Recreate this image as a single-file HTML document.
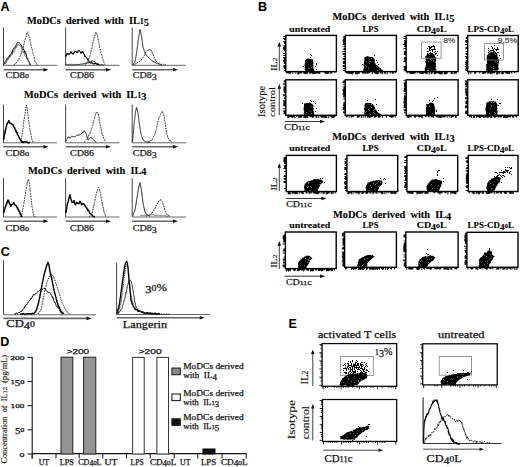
<!DOCTYPE html>
<html><head><meta charset="utf-8"><style>
html,body{margin:0;padding:0;background:#fff;}
body{width:520px;height:467px;overflow:hidden;}
svg{display:block;}
</style></head><body>
<svg width="520" height="467" viewBox="0 0 520 467" shape-rendering="auto">
<rect width="520" height="467" fill="#fff"/>
<text x="0.5" y="11.2" font-family="'Liberation Sans', sans-serif" font-size="12.5" font-weight="bold" fill="#000" text-anchor="start" stroke="#000" stroke-width="0.1" >A</text>
<text x="27" y="24" font-family="'Liberation Serif', serif" font-size="9.6" font-weight="bold" fill="#000" text-anchor="start" textLength="122" lengthAdjust="spacingAndGlyphs" stroke="#000" stroke-width="0.1" >MoDCs&#160;&#160;derived&#160;&#160;with&#160;&#160;IL<tspan font-size="7.49">1</tspan><tspan dy="1.92" font-size="9.60">5</tspan></text>
<text x="24" y="98" font-family="'Liberation Serif', serif" font-size="9.6" font-weight="bold" fill="#000" text-anchor="start" textLength="122.5" lengthAdjust="spacingAndGlyphs" stroke="#000" stroke-width="0.1" >MoDCs&#160;&#160;derived&#160;&#160;with&#160;&#160;IL<tspan font-size="7.49">1</tspan><tspan dy="1.92" font-size="9.60">3</tspan></text>
<text x="28" y="173.5" font-family="'Liberation Serif', serif" font-size="9.6" font-weight="bold" fill="#000" text-anchor="start" textLength="118.5" lengthAdjust="spacingAndGlyphs" stroke="#000" stroke-width="0.1" >MoDCs&#160;&#160;derived&#160;&#160;with&#160;&#160;IL<tspan dy="1.92" font-size="9.60">4</tspan></text>
<line x1="3.5" y1="27.5" x2="3.5" y2="65.3" stroke="#333" stroke-width="0.9"/>
<line x1="3.5" y1="65.3" x2="57" y2="65.3" stroke="#555" stroke-width="0.9"/>
<line x1="3.5" y1="69.8" x2="45.5" y2="69.8" stroke="#666" stroke-width="1.6"/>
<polygon points="43.5,68.0 48.5,69.8 43.5,71.6" fill="#111"/>
<text x="5.5" y="78.3" font-family="'Liberation Serif', serif" font-size="9" font-weight="normal" fill="#1a1a1a" text-anchor="start" textLength="23.5" lengthAdjust="spacingAndGlyphs" stroke="#1a1a1a" stroke-width="0.25" >CD<tspan font-size="9.00">8</tspan><tspan font-size="7.02">0</tspan></text>
<line x1="65.6" y1="27.5" x2="65.6" y2="65.3" stroke="#333" stroke-width="0.9"/>
<line x1="65.6" y1="65.3" x2="119.5" y2="65.3" stroke="#555" stroke-width="0.9"/>
<line x1="65.6" y1="69.8" x2="108" y2="69.8" stroke="#666" stroke-width="1.6"/>
<polygon points="106,68.0 111,69.8 106,71.6" fill="#111"/>
<text x="70" y="78.3" font-family="'Liberation Serif', serif" font-size="9" font-weight="normal" fill="#1a1a1a" text-anchor="start" textLength="24" lengthAdjust="spacingAndGlyphs" stroke="#1a1a1a" stroke-width="0.25" >CD<tspan font-size="9.00">8</tspan><tspan font-size="9.00">6</tspan></text>
<line x1="132.2" y1="27.5" x2="132.2" y2="65.3" stroke="#333" stroke-width="0.9"/>
<line x1="132.2" y1="65.3" x2="186" y2="65.3" stroke="#555" stroke-width="0.9"/>
<line x1="132.2" y1="69.8" x2="175" y2="69.8" stroke="#666" stroke-width="1.6"/>
<polygon points="173,68.0 178,69.8 173,71.6" fill="#111"/>
<text x="132.8" y="78.3" font-family="'Liberation Serif', serif" font-size="9" font-weight="normal" fill="#1a1a1a" text-anchor="start" textLength="24" lengthAdjust="spacingAndGlyphs" stroke="#1a1a1a" stroke-width="0.25" >CD<tspan font-size="9.00">8</tspan><tspan dy="1.80" font-size="9.00">3</tspan></text>
<line x1="3.5" y1="104.5" x2="3.5" y2="142.8" stroke="#333" stroke-width="0.9"/>
<line x1="3.5" y1="142.8" x2="57" y2="142.8" stroke="#555" stroke-width="0.9"/>
<line x1="3.5" y1="146.8" x2="45.5" y2="146.8" stroke="#666" stroke-width="1.6"/>
<polygon points="43.5,145.0 48.5,146.8 43.5,148.60000000000002" fill="#111"/>
<text x="5.5" y="156.3" font-family="'Liberation Serif', serif" font-size="9" font-weight="normal" fill="#1a1a1a" text-anchor="start" textLength="23.5" lengthAdjust="spacingAndGlyphs" stroke="#1a1a1a" stroke-width="0.25" >CD<tspan font-size="9.00">8</tspan><tspan font-size="7.02">0</tspan></text>
<line x1="65.6" y1="104.5" x2="65.6" y2="142.8" stroke="#333" stroke-width="0.9"/>
<line x1="65.6" y1="142.8" x2="119.5" y2="142.8" stroke="#555" stroke-width="0.9"/>
<line x1="65.6" y1="146.8" x2="108" y2="146.8" stroke="#666" stroke-width="1.6"/>
<polygon points="106,145.0 111,146.8 106,148.60000000000002" fill="#111"/>
<text x="70" y="156.3" font-family="'Liberation Serif', serif" font-size="9" font-weight="normal" fill="#1a1a1a" text-anchor="start" textLength="24" lengthAdjust="spacingAndGlyphs" stroke="#1a1a1a" stroke-width="0.25" >CD<tspan font-size="9.00">8</tspan><tspan font-size="9.00">6</tspan></text>
<line x1="132.2" y1="104.5" x2="132.2" y2="142.8" stroke="#333" stroke-width="0.9"/>
<line x1="132.2" y1="142.8" x2="186" y2="142.8" stroke="#555" stroke-width="0.9"/>
<line x1="132.2" y1="146.8" x2="175" y2="146.8" stroke="#666" stroke-width="1.6"/>
<polygon points="173,145.0 178,146.8 173,148.60000000000002" fill="#111"/>
<text x="132.8" y="156.3" font-family="'Liberation Serif', serif" font-size="9" font-weight="normal" fill="#1a1a1a" text-anchor="start" textLength="24" lengthAdjust="spacingAndGlyphs" stroke="#1a1a1a" stroke-width="0.25" >CD<tspan font-size="9.00">8</tspan><tspan dy="1.80" font-size="9.00">3</tspan></text>
<line x1="3.5" y1="178" x2="3.5" y2="217" stroke="#333" stroke-width="0.9"/>
<line x1="3.5" y1="217" x2="57" y2="217" stroke="#555" stroke-width="0.9"/>
<line x1="3.5" y1="221.3" x2="45.5" y2="221.3" stroke="#666" stroke-width="1.6"/>
<polygon points="43.5,219.5 48.5,221.3 43.5,223.10000000000002" fill="#111"/>
<text x="5.5" y="230.8" font-family="'Liberation Serif', serif" font-size="9" font-weight="normal" fill="#1a1a1a" text-anchor="start" textLength="23.5" lengthAdjust="spacingAndGlyphs" stroke="#1a1a1a" stroke-width="0.25" >CD<tspan font-size="9.00">8</tspan><tspan font-size="7.02">0</tspan></text>
<line x1="65.6" y1="178" x2="65.6" y2="217" stroke="#333" stroke-width="0.9"/>
<line x1="65.6" y1="217" x2="119.5" y2="217" stroke="#555" stroke-width="0.9"/>
<line x1="65.6" y1="221.3" x2="108" y2="221.3" stroke="#666" stroke-width="1.6"/>
<polygon points="106,219.5 111,221.3 106,223.10000000000002" fill="#111"/>
<text x="70" y="230.8" font-family="'Liberation Serif', serif" font-size="9" font-weight="normal" fill="#1a1a1a" text-anchor="start" textLength="24" lengthAdjust="spacingAndGlyphs" stroke="#1a1a1a" stroke-width="0.25" >CD<tspan font-size="9.00">8</tspan><tspan font-size="9.00">6</tspan></text>
<line x1="132.2" y1="178" x2="132.2" y2="217" stroke="#333" stroke-width="0.9"/>
<line x1="132.2" y1="217" x2="186" y2="217" stroke="#555" stroke-width="0.9"/>
<line x1="132.2" y1="221.3" x2="175" y2="221.3" stroke="#666" stroke-width="1.6"/>
<polygon points="173,219.5 178,221.3 173,223.10000000000002" fill="#111"/>
<text x="132.8" y="230.8" font-family="'Liberation Serif', serif" font-size="9" font-weight="normal" fill="#1a1a1a" text-anchor="start" textLength="24" lengthAdjust="spacingAndGlyphs" stroke="#1a1a1a" stroke-width="0.25" >CD<tspan font-size="9.00">8</tspan><tspan dy="1.80" font-size="9.00">3</tspan></text>
<polyline points="3.50,65.00 3.92,63.95 4.33,62.90 4.75,63.33 5.17,61.39 5.58,61.75 6.00,60.70 6.43,59.46 6.86,59.87 7.29,58.27 7.71,58.57 8.14,57.20 8.57,56.67 9.00,56.83 9.38,57.09 9.75,54.92 10.12,54.52 10.50,54.78 10.88,54.86 11.25,53.42 11.62,52.40 12.00,53.05 12.38,50.38 12.75,51.54 13.12,49.66 13.50,48.72 13.88,48.03 14.25,47.83 14.62,48.32 15.00,46.30 15.40,46.58 15.80,46.11 16.20,44.92 16.60,44.71 17.00,43.04 17.67,42.53 18.33,42.35 19.00,42.90 19.50,42.97 20.00,43.34 20.50,44.56 21.00,44.90 21.40,45.16 21.80,46.85 22.20,47.24 22.60,46.84 23.00,48.16 23.33,48.72 23.67,50.16 24.00,50.50 24.33,50.20 24.67,52.39 25.00,51.16 25.29,52.53 25.57,53.99 25.86,53.38 26.14,54.83 26.43,54.56 26.71,56.66 27.00,57.58 27.29,57.87 27.57,59.25 27.86,58.73 28.14,60.29 28.43,60.78 28.71,61.46 29.00,61.90 29.38,63.50 29.75,64.48 30.12,64.19 30.50,65.00" fill="none" stroke="#000" stroke-width="0.9" stroke-linejoin="round" opacity="1"/>
<polyline points="3.50,65.00 4.00,64.79 4.50,62.75 5.00,63.68 5.50,62.95 6.00,63.18 6.50,62.19 7.00,60.32 7.50,59.98 8.00,60.07 8.50,57.94 9.00,58.41 9.43,57.06 9.86,56.30 10.29,55.51 10.71,56.57 11.14,54.40 11.57,54.04 12.00,53.74 12.38,54.27 12.75,51.74 13.12,52.00 13.50,51.62 13.88,51.80 14.25,51.02 14.62,50.50 15.00,48.47 15.40,48.20 15.80,47.46 16.20,48.12 16.60,47.70 17.00,45.16 17.67,44.89 18.33,44.69 19.00,44.36 19.50,45.46 20.00,46.21 20.50,45.93 21.00,45.81 21.33,47.47 21.67,48.02 22.00,49.16 22.33,50.75 22.67,50.79 23.00,51.04 23.33,51.95 23.67,52.76 24.00,51.93 24.33,54.63 24.67,55.01 25.00,55.90 25.33,56.38 25.67,56.08 26.00,56.76 26.33,56.72 26.67,58.66 27.00,57.95 27.33,58.63 27.67,59.63 28.00,60.19 28.33,61.28 28.67,61.26 29.00,61.80 29.50,62.83 30.00,63.38 30.50,65.00" fill="none" stroke="#444" stroke-width="0.8" stroke-linejoin="round" opacity="1"/>
<polyline points="14.00,65.00 14.50,64.36 15.00,63.53 15.50,63.87 16.00,63.11 16.50,62.15 17.00,61.75 17.38,61.22 17.75,60.61 18.12,59.75 18.50,59.85 18.88,59.37 19.25,58.22 19.62,57.61 20.00,56.59 20.23,55.91 20.46,55.46 20.69,54.69 20.92,54.56 21.15,53.20 21.38,52.37 21.62,52.60 21.85,51.49 22.08,50.42 22.31,50.12 22.54,48.91 22.77,48.72 23.00,48.48 23.18,47.64 23.36,46.74 23.55,45.58 23.73,44.96 23.91,44.03 24.09,43.91 24.27,42.94 24.45,42.46 24.64,41.28 24.82,40.45 25.00,40.31 25.23,39.76 25.45,38.90 25.68,38.12 25.91,37.41 26.14,36.60 26.36,35.36 26.59,34.93 26.82,34.04 27.05,32.98 27.27,32.26 27.50,31.78 27.72,32.43 27.94,33.53 28.17,34.46 28.39,34.61 28.61,35.77 28.83,36.49 29.06,37.12 29.28,37.20 29.50,37.72 29.65,38.42 29.81,39.08 29.96,39.78 30.12,40.89 30.27,41.86 30.42,42.49 30.58,42.83 30.73,43.69 30.88,44.53 31.04,44.51 31.19,45.78 31.35,46.72 31.50,47.28 31.68,47.98 31.86,48.43 32.05,48.86 32.23,50.20 32.41,50.47 32.59,51.66 32.77,52.56 32.95,52.71 33.14,53.45 33.32,54.72 33.50,55.22 33.69,55.42 33.88,56.13 34.06,56.90 34.25,58.40 34.44,59.06 34.62,59.15 34.81,60.58 35.00,61.48 35.33,61.82 35.67,62.18 36.00,63.05 36.33,63.30 36.67,63.85 37.00,65.00" fill="none" stroke="#2a2a2a" stroke-width="1.0" stroke-dasharray="1.8,0.9" stroke-linejoin="round" opacity="1"/>
<polyline points="65.60,57.00 65.83,56.99 66.07,55.88 66.30,55.04 66.53,54.94 66.77,53.57 67.00,53.52 67.50,53.96 68.00,53.60 68.50,54.15 69.00,54.71 69.40,54.04 69.80,53.92 70.20,52.86 70.60,52.49 71.00,51.48 71.50,53.07 72.00,52.80 72.50,53.44 73.00,54.12 73.40,53.97 73.80,52.69 74.20,52.78 74.60,51.60 75.00,51.04 75.50,51.53 76.00,51.33 76.50,52.42 77.00,52.56 77.40,51.71 77.80,52.22 78.20,50.74 78.60,50.56 79.00,50.32 79.40,50.68 79.80,50.96 80.20,51.83 80.60,52.48 81.00,53.40 81.67,52.12 82.33,52.42 83.00,51.65 83.33,52.35 83.67,53.71 84.00,54.01 84.33,54.75 84.67,55.70 85.00,56.58 85.50,56.42 86.00,57.16 86.50,57.51 87.00,58.02 87.40,58.97 87.80,59.33 88.20,60.15 88.60,60.77 89.00,62.12 89.67,62.11 90.33,62.69 91.00,63.12 91.75,62.41 92.50,63.08 93.25,63.87 94.00,63.98 94.75,63.24 95.50,63.47 96.25,64.17 97.00,63.90 98.00,64.39 99.00,65.00" fill="none" stroke="#000" stroke-width="1.1" stroke-linejoin="round" opacity="1"/>
<polyline points="65.60,64.50 66.32,64.16 67.04,64.64 67.76,64.73 68.48,64.82 69.20,64.22 69.92,64.67 70.64,64.63 71.36,64.21 72.08,64.81 72.80,64.87 73.52,64.28 74.24,64.86 74.96,64.42 75.68,64.49 76.40,64.89 77.12,64.77 77.84,64.23 78.56,64.45 79.28,64.51 80.00,64.37 80.73,64.12 81.45,64.08 82.18,64.27 82.91,63.57 83.64,63.86 84.36,63.63 85.09,63.16 85.82,63.27 86.55,63.37 87.27,63.15 88.00,62.65 88.75,63.01 89.50,62.48 90.25,62.25 91.00,61.18 92.00,61.06 93.00,60.63 93.67,61.56 94.33,61.48 95.00,61.70 95.67,62.44 96.33,63.33 97.00,63.76 97.75,63.63 98.50,63.87 99.25,64.81 100.00,64.86 100.80,65.00 101.60,64.55 102.40,64.57 103.20,65.11 104.00,65.00" fill="none" stroke="#111" stroke-width="0.9" stroke-linejoin="round" opacity="1"/>
<polyline points="85.00,65.00 85.43,64.35 85.86,63.43 86.29,63.72 86.71,62.85 87.14,62.44 87.57,61.16 88.00,61.36 88.29,59.85 88.57,59.93 88.86,58.81 89.14,57.98 89.43,57.48 89.71,57.14 90.00,55.77 90.18,54.90 90.36,54.57 90.55,53.56 90.73,52.70 90.91,52.03 91.09,51.19 91.27,50.61 91.45,49.99 91.64,49.26 91.82,48.99 92.00,47.79 92.14,47.29 92.29,46.25 92.43,45.70 92.57,44.66 92.71,44.18 92.86,43.23 93.00,43.23 93.14,42.34 93.29,41.26 93.43,40.83 93.57,40.58 93.71,39.03 93.86,39.03 94.00,37.93 94.22,37.33 94.44,37.00 94.67,35.89 94.89,35.34 95.11,34.85 95.33,34.48 95.56,33.18 95.78,33.00 96.00,32.21 96.25,32.80 96.50,33.24 96.75,33.85 97.00,34.22 97.25,34.96 97.50,35.57 97.64,36.97 97.77,37.21 97.91,37.85 98.05,38.49 98.18,39.98 98.32,40.73 98.45,41.26 98.59,41.60 98.73,42.29 98.86,43.07 99.00,43.96 99.15,44.35 99.31,45.33 99.46,45.84 99.62,47.23 99.77,47.93 99.92,48.20 100.08,48.59 100.23,50.00 100.38,50.04 100.54,50.78 100.69,51.12 100.85,52.19 101.00,52.97 101.20,53.70 101.40,54.10 101.60,55.10 101.80,55.30 102.00,56.26 102.20,56.79 102.40,57.80 102.60,58.14 102.80,58.82 103.00,59.80 103.29,60.45 103.57,61.51 103.86,62.17 104.14,63.11 104.43,63.73 104.71,64.50 105.00,65.00" fill="none" stroke="#2a2a2a" stroke-width="1.0" stroke-dasharray="1.8,0.9" stroke-linejoin="round" opacity="1"/>
<polyline points="132.50,65.00 133.00,64.40 133.50,63.80 134.00,63.20 134.50,62.60 135.00,62.00 135.12,61.29 135.24,60.59 135.35,59.88 135.47,59.18 135.59,58.47 135.71,57.76 135.82,57.06 135.94,56.35 136.06,55.65 136.18,54.94 136.29,54.24 136.41,53.53 136.53,52.82 136.65,52.12 136.76,51.41 136.88,50.71 137.00,50.00 137.09,49.29 137.18,48.59 137.26,47.88 137.35,47.18 137.44,46.47 137.53,45.76 137.62,45.06 137.71,44.35 137.79,43.65 137.88,42.94 137.97,42.24 138.06,41.53 138.15,40.82 138.24,40.12 138.32,39.41 138.41,38.71 138.50,38.00 138.62,37.29 138.75,36.58 138.88,35.88 139.00,35.17 139.12,34.46 139.25,33.75 139.38,33.04 139.50,32.33 139.62,31.62 139.75,30.92 139.88,30.21 140.00,29.50 140.17,30.22 140.33,30.94 140.50,31.67 140.67,32.39 140.83,33.11 141.00,33.83 141.17,34.56 141.33,35.28 141.50,36.00 141.60,36.73 141.70,37.47 141.80,38.20 141.90,38.93 142.00,39.67 142.10,40.40 142.20,41.13 142.30,41.87 142.40,42.60 142.50,43.33 142.60,44.07 142.70,44.80 142.80,45.53 142.90,46.27 143.00,47.00 143.22,47.67 143.44,48.33 143.67,49.00 143.89,49.67 144.11,50.33 144.33,51.00 144.56,51.67 144.78,52.33 145.00,53.00 145.40,53.60 145.80,54.20 146.20,54.80 146.60,55.40 147.00,56.00 147.50,56.50 148.00,57.00 148.50,57.50 149.00,58.00 149.50,58.50 150.00,59.00 150.60,59.50 151.20,60.00 151.80,60.50 152.40,61.00 153.00,61.50 153.67,61.83 154.33,62.17 155.00,62.50 155.67,62.83 156.33,63.17 157.00,63.50 157.71,63.71 158.43,63.93 159.14,64.14 159.86,64.36 160.57,64.57 161.29,64.79 162.00,65.00" fill="none" stroke="#111" stroke-width="0.9" stroke-linejoin="round" opacity="1"/>
<polyline points="133.00,65.00 133.67,65.05 134.33,64.22 135.00,63.83 135.67,64.15 136.33,62.98 137.00,63.22 137.57,62.71 138.14,61.69 138.71,62.05 139.29,61.68 139.86,60.98 140.43,60.66 141.00,60.31 141.43,59.07 141.86,58.88 142.29,58.29 142.71,58.05 143.14,57.45 143.57,56.90 144.00,56.08 144.33,55.73 144.67,54.85 145.00,54.19 145.33,53.06 145.67,52.20 146.00,51.63 146.50,51.36 147.00,50.60 147.50,50.84 148.00,50.06 148.67,49.79 149.33,49.46 150.00,49.18 150.40,49.59 150.80,49.70 151.20,51.10 151.60,51.65 152.00,52.00 152.29,52.75 152.57,53.59 152.86,53.71 153.14,55.09 153.43,55.32 153.71,55.86 154.00,56.77 154.33,57.90 154.67,58.04 155.00,59.24 155.33,60.14 155.67,60.33 156.00,60.88 156.50,61.48 157.00,62.18 157.50,62.77 158.00,63.12 158.67,63.39 159.33,63.08 160.00,63.40 160.67,63.75 161.33,64.49 162.00,64.30 162.80,64.67 163.60,64.21 164.40,64.36 165.20,64.67 166.00,65.00" fill="none" stroke="#2a2a2a" stroke-width="1.0" stroke-dasharray="1.8,0.9" stroke-linejoin="round" opacity="1"/>
<polyline points="3.50,140.00 3.64,139.44 3.77,138.74 3.91,137.99 4.05,136.88 4.18,136.38 4.32,135.60 4.45,134.88 4.59,133.80 4.73,133.85 4.86,132.43 5.00,132.48 5.18,131.71 5.36,130.06 5.55,129.78 5.73,129.41 5.91,128.83 6.09,127.59 6.27,126.68 6.45,125.89 6.64,125.90 6.82,124.44 7.00,124.08 7.45,122.89 7.90,122.52 8.35,122.20 8.80,120.63 9.20,121.99 9.60,122.34 10.00,123.39 10.67,123.54 11.33,123.40 12.00,124.40 12.40,124.59 12.80,124.72 13.20,125.30 13.60,126.39 14.00,126.95 14.33,127.47 14.67,127.97 15.00,128.84 15.33,129.48 15.67,130.67 16.00,130.50 16.33,131.92 16.67,132.67 17.00,132.62 17.33,134.09 17.67,134.55 18.00,135.40 18.33,135.46 18.67,136.21 19.00,136.89 19.33,138.17 19.67,138.42 20.00,138.86 20.40,139.53 20.80,139.98 21.20,140.35 21.60,141.00 22.00,142.33 22.73,141.81 23.45,142.49 24.18,141.83 24.91,141.87 25.64,142.15 26.36,141.85 27.09,142.06 27.82,142.67 28.55,142.63 29.27,142.58 30.00,142.30" fill="none" stroke="#000" stroke-width="1.5" stroke-linejoin="round" opacity="1"/>
<polyline points="20.00,142.00 20.22,141.46 20.44,141.08 20.67,140.44 20.89,139.38 21.11,138.89 21.33,137.55 21.56,137.57 21.78,136.62 22.00,136.25 22.09,135.45 22.17,134.39 22.26,133.46 22.35,133.64 22.43,132.15 22.52,131.80 22.61,130.97 22.70,130.23 22.78,129.98 22.87,129.52 22.96,128.11 23.04,127.81 23.13,126.76 23.22,126.32 23.30,125.46 23.39,124.54 23.48,123.84 23.57,123.19 23.65,123.19 23.74,122.08 23.83,121.11 23.91,121.10 24.00,120.50 24.12,119.24 24.24,118.21 24.36,117.55 24.48,116.73 24.60,116.27 24.71,115.31 24.83,114.74 24.95,114.04 25.07,113.64 25.19,113.24 25.31,112.39 25.43,111.34 25.55,110.63 25.67,110.02 25.79,109.16 25.90,108.41 26.02,107.42 26.14,106.92 26.26,106.90 26.38,105.34 26.50,105.00 26.61,105.84 26.71,106.79 26.82,106.86 26.93,107.63 27.04,108.32 27.14,109.19 27.25,109.95 27.36,111.17 27.46,111.78 27.57,112.52 27.68,112.38 27.79,113.10 27.89,114.50 28.00,115.40 28.10,115.69 28.19,116.52 28.29,116.64 28.38,117.75 28.48,119.00 28.57,119.61 28.67,120.36 28.76,121.19 28.86,121.18 28.95,121.75 29.05,122.51 29.14,123.59 29.24,124.47 29.33,125.44 29.43,125.94 29.52,126.58 29.62,127.41 29.71,127.81 29.81,128.62 29.90,128.83 30.00,130.28 30.14,130.45 30.29,131.85 30.43,132.29 30.57,132.66 30.71,133.20 30.86,134.04 31.00,135.14 31.14,135.91 31.29,136.04 31.43,136.71 31.57,137.88 31.71,138.65 31.86,139.17 32.00,139.72 32.33,140.77 32.67,140.84 33.00,142.00" fill="none" stroke="#2a2a2a" stroke-width="1.0" stroke-dasharray="1.8,0.9" stroke-linejoin="round" opacity="1"/>
<polyline points="66.00,141.00 66.33,140.17 66.67,139.64 67.00,139.37 67.33,138.45 67.67,137.97 68.00,136.98 68.67,137.12 69.33,137.46 70.00,138.37 70.50,137.66 71.00,136.85 71.50,136.12 72.00,136.00 72.67,136.47 73.33,136.60 74.00,136.81 74.67,136.80 75.33,136.67 76.00,135.78 76.67,135.29 77.33,135.20 78.00,134.94 79.00,135.15 80.00,134.76 80.50,134.74 81.00,134.19 81.50,133.50 82.00,132.76 82.50,132.88 83.00,131.85 83.50,131.76 84.00,130.78 84.50,131.28 85.00,132.21 85.50,132.34 86.00,133.36 86.20,133.80 86.40,134.35 86.60,135.18 86.80,136.13 87.00,137.13 87.25,138.11 87.50,138.22 87.75,139.16 88.00,139.77 88.50,139.88 89.00,138.71 89.50,138.14 90.00,137.65 90.50,137.41 91.00,137.32 91.50,137.81 92.00,138.19 92.50,138.90 93.00,139.35 93.50,139.36 94.00,139.75 94.50,140.85 95.00,141.20 95.50,141.28 96.00,142.30" fill="none" stroke="#111" stroke-width="0.9" stroke-linejoin="round" opacity="1"/>
<polyline points="84.00,142.00 84.50,141.66 85.00,140.88 85.50,140.37 86.00,139.83 86.50,139.17 87.00,138.50 87.33,138.11 87.67,137.52 88.00,137.46 88.33,135.96 88.67,136.13 89.00,134.71 89.33,134.19 89.67,133.99 90.00,133.32 90.29,132.22 90.57,131.12 90.86,130.83 91.14,130.02 91.43,129.85 91.71,128.41 92.00,127.86 92.18,127.67 92.36,126.08 92.55,125.73 92.73,125.40 92.91,124.63 93.09,123.18 93.27,122.44 93.45,121.74 93.64,121.87 93.82,120.48 94.00,120.25 94.20,119.70 94.40,118.44 94.60,117.67 94.80,117.66 95.00,116.62 95.20,115.56 95.40,115.32 95.60,114.22 95.80,113.48 96.00,112.50 96.50,112.51 97.00,111.92 97.30,112.33 97.60,113.34 97.90,113.12 98.20,114.03 98.50,114.98 98.62,116.15 98.73,116.84 98.85,116.96 98.96,117.52 99.08,118.39 99.19,119.15 99.31,120.27 99.42,120.22 99.54,121.53 99.65,122.16 99.77,122.94 99.88,123.58 100.00,124.11 100.15,124.52 100.31,125.20 100.46,125.94 100.62,127.05 100.77,127.04 100.92,127.85 101.08,129.10 101.23,129.29 101.38,129.80 101.54,130.46 101.69,131.67 101.85,132.13 102.00,133.48 102.22,134.05 102.44,134.82 102.67,134.76 102.89,135.25 103.11,135.93 103.33,137.00 103.56,137.88 103.78,138.28 104.00,138.73 104.40,139.52 104.80,140.32 105.20,140.97 105.60,141.65 106.00,142.00" fill="none" stroke="#2a2a2a" stroke-width="1.0" stroke-dasharray="1.8,0.9" stroke-linejoin="round" opacity="1"/>
<polyline points="132.50,142.00 132.56,141.29 132.62,140.58 132.69,139.88 132.75,139.17 132.81,138.46 132.88,137.75 132.94,137.04 133.00,136.33 133.06,135.62 133.12,134.92 133.19,134.21 133.25,133.50 133.31,132.79 133.38,132.08 133.44,131.38 133.50,130.67 133.56,129.96 133.62,129.25 133.69,128.54 133.75,127.83 133.81,127.12 133.88,126.42 133.94,125.71 134.00,125.00 134.08,124.28 134.17,123.56 134.25,122.83 134.33,122.11 134.42,121.39 134.50,120.67 134.58,119.94 134.67,119.22 134.75,118.50 134.83,117.78 134.92,117.06 135.00,116.33 135.08,115.61 135.17,114.89 135.25,114.17 135.33,113.44 135.42,112.72 135.50,112.00 135.68,111.25 135.87,110.50 136.05,109.75 136.23,109.00 136.42,108.25 136.60,107.50 136.78,108.19 136.95,108.88 137.12,109.56 137.30,110.25 137.47,110.94 137.65,111.62 137.82,112.31 138.00,113.00 138.09,113.71 138.18,114.41 138.26,115.12 138.35,115.82 138.44,116.53 138.53,117.24 138.62,117.94 138.71,118.65 138.79,119.35 138.88,120.06 138.97,120.76 139.06,121.47 139.15,122.18 139.24,122.88 139.32,123.59 139.41,124.29 139.50,125.00 139.62,125.69 139.73,126.38 139.85,127.08 139.96,127.77 140.08,128.46 140.19,129.15 140.31,129.85 140.42,130.54 140.54,131.23 140.65,131.92 140.77,132.62 140.88,133.31 141.00,134.00 141.22,134.67 141.44,135.33 141.67,136.00 141.89,136.67 142.11,137.33 142.33,138.00 142.56,138.67 142.78,139.33 143.00,140.00 143.60,140.40 144.20,140.80 144.80,141.20 145.40,141.60 146.00,142.00 146.80,142.06 147.60,142.12 148.40,142.18 149.20,142.24 150.00,142.30" fill="none" stroke="#111" stroke-width="0.9" stroke-linejoin="round" opacity="1"/>
<polyline points="148.00,142.00 148.67,142.01 149.33,141.50 150.00,140.62 150.67,141.01 151.33,140.13 152.00,140.07 152.33,139.21 152.67,138.90 153.00,137.70 153.33,137.08 153.67,136.41 154.00,135.65 154.33,135.72 154.67,134.74 155.00,133.83 155.18,133.17 155.36,133.04 155.55,131.83 155.73,130.82 155.91,130.67 156.09,129.79 156.27,129.40 156.45,127.78 156.64,127.43 156.82,127.05 157.00,126.34 157.18,125.69 157.36,124.09 157.55,123.61 157.73,122.71 157.91,122.05 158.09,122.11 158.27,120.99 158.45,120.61 158.64,119.33 158.82,119.09 159.00,117.95 159.29,117.05 159.57,116.85 159.86,116.30 160.14,114.75 160.43,114.52 160.71,113.83 161.00,112.72 161.50,112.37 162.00,111.64 162.50,111.20 162.75,112.00 163.00,113.10 163.25,113.90 163.50,114.20 163.75,114.76 164.00,115.83 164.11,116.89 164.21,117.11 164.32,117.96 164.43,118.56 164.54,119.87 164.64,120.33 164.75,120.56 164.86,121.32 164.96,122.32 165.07,123.19 165.18,124.00 165.29,124.16 165.39,124.95 165.50,126.20 165.62,126.60 165.73,127.17 165.85,127.88 165.96,129.22 166.08,129.27 166.19,130.22 166.31,130.70 166.42,131.45 166.54,132.60 166.65,133.42 166.77,133.48 166.88,134.00 167.00,135.23 167.29,135.42 167.57,135.93 167.86,137.54 168.14,137.78 168.43,138.89 168.71,139.19 169.00,140.38 169.60,140.36 170.20,140.46 170.80,140.71 171.40,141.65 172.00,142.00" fill="none" stroke="#2a2a2a" stroke-width="1.0" stroke-dasharray="1.8,0.9" stroke-linejoin="round" opacity="1"/>
<polyline points="3.50,213.00 3.71,212.43 3.93,211.98 4.14,210.45 4.36,210.27 4.57,209.30 4.79,208.72 5.00,207.65 5.25,207.12 5.50,206.69 5.75,206.43 6.00,204.94 6.25,204.66 6.50,204.30 6.75,203.80 7.00,202.36 7.25,201.63 7.50,201.78 7.75,201.14 8.00,199.98 8.38,200.30 8.75,201.93 9.12,202.14 9.50,203.40 9.88,203.87 10.25,204.82 10.62,204.91 11.00,206.29 11.50,205.06 12.00,204.57 12.50,204.35 13.00,203.83 13.50,202.68 14.00,203.38 14.50,204.23 15.00,205.02 15.50,205.38 16.00,205.62 16.50,206.25 17.00,207.22 17.33,208.06 17.67,207.87 18.00,209.06 18.33,209.92 18.67,209.87 19.00,211.34 19.38,211.37 19.75,212.60 20.12,213.30 20.50,214.13 20.88,214.56 21.25,215.42 21.62,216.33 22.00,217.00" fill="none" stroke="#000" stroke-width="1.5" stroke-linejoin="round" opacity="1"/>
<polyline points="20.00,217.00 20.40,216.33 20.80,215.96 21.20,215.15 21.60,214.54 22.00,213.52 22.13,213.39 22.27,212.52 22.40,211.54 22.53,211.33 22.67,210.61 22.80,209.56 22.93,208.55 23.07,208.11 23.20,207.01 23.33,206.30 23.47,205.86 23.60,204.79 23.73,204.41 23.87,203.74 24.00,202.54 24.11,202.41 24.22,201.14 24.33,201.07 24.44,200.39 24.56,199.40 24.67,198.22 24.78,197.95 24.89,197.10 25.00,196.95 25.11,195.41 25.22,195.41 25.33,194.83 25.44,193.84 25.56,193.20 25.67,191.86 25.78,191.93 25.89,190.71 26.00,190.46 26.12,189.72 26.23,188.28 26.35,188.21 26.46,187.66 26.58,186.10 26.69,185.70 26.81,185.41 26.92,184.12 27.04,184.17 27.15,182.85 27.27,182.70 27.38,181.34 27.50,181.00 28.00,180.67 28.50,179.21 28.67,180.01 28.83,181.01 29.00,181.57 29.17,182.04 29.33,182.93 29.50,183.66 29.57,185.14 29.65,185.58 29.73,186.50 29.80,186.47 29.88,187.78 29.95,187.82 30.02,188.93 30.10,189.74 30.18,190.16 30.25,191.37 30.32,191.76 30.40,192.48 30.48,193.48 30.55,193.40 30.62,194.99 30.70,195.33 30.77,195.79 30.85,196.90 30.93,197.06 31.00,198.49 31.09,198.78 31.18,199.27 31.26,200.38 31.35,200.77 31.44,201.21 31.53,202.48 31.62,202.49 31.71,203.97 31.79,204.11 31.88,205.20 31.97,206.25 32.06,206.56 32.15,207.34 32.24,207.70 32.32,208.09 32.41,208.83 32.50,209.65 32.69,210.87 32.88,211.43 33.06,212.26 33.25,213.40 33.44,213.38 33.62,214.23 33.81,215.40 34.00,215.52 34.50,216.00 35.00,217.00" fill="none" stroke="#2a2a2a" stroke-width="1.0" stroke-dasharray="1.8,0.9" stroke-linejoin="round" opacity="1"/>
<polyline points="66.00,213.00 66.10,212.13 66.20,211.13 66.30,210.73 66.40,209.87 66.50,209.60 66.60,208.91 66.70,207.75 66.80,207.55 66.90,206.67 67.00,205.56 67.19,205.77 67.38,204.19 67.56,203.33 67.75,202.51 67.94,202.42 68.12,201.95 68.31,201.09 68.50,199.88 68.71,198.96 68.93,197.90 69.14,197.90 69.36,197.05 69.57,196.03 69.79,195.63 70.00,194.63 70.14,195.98 70.29,196.49 70.43,196.67 70.57,198.21 70.71,197.94 70.86,199.28 71.00,199.89 71.38,200.44 71.75,200.97 72.12,202.58 72.50,202.41 73.00,202.39 73.50,202.20 74.00,200.57 74.25,201.31 74.50,202.46 74.75,203.01 75.00,203.84 75.25,204.71 75.50,204.61 75.88,204.02 76.25,203.26 76.62,202.21 77.00,202.47 77.50,203.01 78.00,203.59 78.50,203.41 78.88,203.66 79.25,202.79 79.62,201.71 80.00,201.29 80.25,201.61 80.50,202.00 80.75,202.53 81.00,203.35 81.25,203.78 81.50,204.80 82.00,204.63 82.50,203.90 83.00,203.41 83.50,203.92 84.00,204.05 84.50,205.06 85.00,205.59 85.50,206.68 86.00,207.03 86.40,207.32 86.80,208.37 87.20,209.36 87.60,209.06 88.00,210.46 88.40,210.02 88.80,210.91 89.20,211.48 89.60,212.69 90.00,213.53 90.50,213.80 91.00,213.79 91.50,214.96 92.00,214.79 92.50,215.19 93.00,216.49 93.67,216.49 94.33,216.90 95.00,217.00" fill="none" stroke="#000" stroke-width="1.4" stroke-linejoin="round" opacity="1"/>
<polyline points="89.00,217.00 89.50,216.67 90.00,216.48 90.50,215.47 91.00,215.34 91.50,214.70 92.00,214.36 92.15,213.24 92.31,212.84 92.46,211.99 92.62,211.04 92.77,210.25 92.92,209.97 93.08,208.73 93.23,208.87 93.38,207.41 93.54,206.60 93.69,205.99 93.85,206.12 94.00,204.84 94.14,203.93 94.29,203.10 94.43,202.40 94.57,202.34 94.71,201.56 94.86,200.91 95.00,200.24 95.14,198.85 95.29,198.66 95.43,197.72 95.57,197.46 95.71,196.75 95.86,196.11 96.00,194.57 96.23,194.64 96.45,193.96 96.68,193.26 96.91,191.70 97.14,191.07 97.36,190.25 97.59,189.44 97.82,189.53 98.05,188.77 98.27,187.86 98.50,187.33 98.75,187.80 99.00,188.12 99.25,188.60 99.50,189.26 99.75,190.59 100.00,190.70 100.13,191.55 100.27,192.39 100.40,192.72 100.53,193.69 100.67,194.45 100.80,195.62 100.93,196.00 101.07,196.69 101.20,198.06 101.33,198.34 101.47,199.42 101.60,199.92 101.73,200.06 101.87,201.18 102.00,201.94 102.14,202.99 102.29,203.28 102.43,204.35 102.57,204.90 102.71,205.29 102.86,206.65 103.00,206.59 103.14,208.03 103.29,208.10 103.43,208.64 103.57,209.56 103.71,210.83 103.86,211.76 104.00,211.50 104.29,212.71 104.57,213.42 104.86,214.44 105.14,214.54 105.43,215.57 105.71,216.13 106.00,217.00" fill="none" stroke="#2a2a2a" stroke-width="1.0" stroke-dasharray="1.8,0.9" stroke-linejoin="round" opacity="1"/>
<polyline points="132.50,216.00 132.78,215.33 133.06,214.67 133.33,214.00 133.61,213.33 133.89,212.67 134.17,212.00 134.44,211.33 134.72,210.67 135.00,210.00 135.12,209.29 135.24,208.59 135.35,207.88 135.47,207.18 135.59,206.47 135.71,205.76 135.82,205.06 135.94,204.35 136.06,203.65 136.18,202.94 136.29,202.24 136.41,201.53 136.53,200.82 136.65,200.12 136.76,199.41 136.88,198.71 137.00,198.00 137.11,197.29 137.21,196.57 137.32,195.86 137.43,195.14 137.54,194.43 137.64,193.71 137.75,193.00 137.86,192.29 137.96,191.57 138.07,190.86 138.18,190.14 138.29,189.43 138.39,188.71 138.50,188.00 138.71,187.24 138.93,186.49 139.14,185.73 139.36,184.97 139.57,184.21 139.79,183.46 140.00,182.70 140.15,183.43 140.30,184.16 140.45,184.89 140.60,185.62 140.75,186.35 140.90,187.08 141.05,187.81 141.20,188.54 141.35,189.27 141.50,190.00 141.58,190.72 141.67,191.44 141.75,192.17 141.83,192.89 141.92,193.61 142.00,194.33 142.08,195.06 142.17,195.78 142.25,196.50 142.33,197.22 142.42,197.94 142.50,198.67 142.58,199.39 142.67,200.11 142.75,200.83 142.83,201.56 142.92,202.28 143.00,203.00 143.15,203.69 143.31,204.38 143.46,205.08 143.62,205.77 143.77,206.46 143.92,207.15 144.08,207.85 144.23,208.54 144.38,209.23 144.54,209.92 144.69,210.62 144.85,211.31 145.00,212.00 145.40,212.60 145.80,213.20 146.20,213.80 146.60,214.40 147.00,215.00 147.75,215.25 148.50,215.50 149.25,215.75 150.00,216.00" fill="none" stroke="#111" stroke-width="1.0" stroke-linejoin="round" opacity="1"/>
<polyline points="146.00,216.00 146.80,216.13 147.60,215.36 148.40,215.84 149.20,214.98 150.00,214.71 150.50,214.70 151.00,214.00 151.50,213.11 152.00,213.14 152.50,212.08 153.00,212.29 153.33,211.53 153.67,210.95 154.00,210.13 154.33,209.19 154.67,208.57 155.00,207.89 155.33,207.72 155.67,206.25 156.00,206.39 156.33,204.86 156.67,204.37 157.00,203.76 157.33,203.73 157.67,202.67 158.00,201.88 158.50,201.88 159.00,200.73 159.50,200.46 160.00,200.03 161.00,199.75 161.38,200.38 161.75,200.90 162.12,201.22 162.50,201.83 162.71,202.37 162.93,203.77 163.14,204.30 163.36,205.10 163.57,205.24 163.79,206.22 164.00,207.27 164.21,207.79 164.43,208.05 164.64,209.10 164.86,210.24 165.07,210.31 165.29,210.98 165.50,211.80 165.88,212.95 166.25,213.84 166.62,213.90 167.00,214.66 167.75,215.00 168.50,215.33 169.25,215.77 170.00,216.00" fill="none" stroke="#2a2a2a" stroke-width="1.0" stroke-dasharray="1.8,0.9" stroke-linejoin="round" opacity="1"/>
<polyline points="140.00,215.50 140.71,215.19 141.43,215.29 142.14,215.14 142.86,215.74 143.57,215.50 144.29,214.97 145.00,215.62 145.71,214.90 146.43,215.09 147.14,215.53 147.86,215.34 148.57,215.26 149.29,214.98 150.00,214.76 150.71,215.15 151.43,214.76 152.14,214.87 152.86,215.05 153.57,214.81 154.29,215.13 155.00,215.48 155.71,215.44 156.43,215.32 157.14,215.46 157.86,215.36 158.57,215.14 159.29,215.55 160.00,215.42 160.71,215.73 161.43,215.90 162.14,215.55 162.86,215.70 163.57,215.88 164.29,215.65 165.00,215.53 165.71,215.96 166.43,216.13 167.14,216.08 167.86,216.05 168.57,216.21 169.29,216.11 170.00,216.00" fill="none" stroke="#444" stroke-width="0.7" stroke-linejoin="round" opacity="1"/>
<text x="0.8" y="256.4" font-family="'Liberation Sans', sans-serif" font-size="12.5" font-weight="bold" fill="#000" text-anchor="start" stroke="#000" stroke-width="0.1" >C</text>
<line x1="3.5" y1="260.2" x2="3.5" y2="314.8" stroke="#333" stroke-width="0.9"/>
<line x1="3.5" y1="314.8" x2="96" y2="314.8" stroke="#555" stroke-width="0.9"/>
<line x1="3.5" y1="318.4" x2="88.5" y2="318.4" stroke="#666" stroke-width="1.6"/>
<polygon points="86.5,316.59999999999997 91.5,318.4 86.5,320.2" fill="#111"/>
<text x="6.3" y="327.2" font-family="'Liberation Serif', serif" font-size="9.7" font-weight="normal" fill="#111" text-anchor="start" textLength="28.7" lengthAdjust="spacingAndGlyphs" stroke="#111" stroke-width="0.25" >CD<tspan dy="1.94" font-size="9.70">4</tspan><tspan dy="-1.94" font-size="7.57">0</tspan></text>
<polyline points="20.00,314.00 20.73,314.12 21.45,313.92 22.18,313.76 22.91,314.06 23.64,313.51 24.36,313.81 25.09,314.16 25.82,314.07 26.55,313.97 27.27,313.57 28.00,313.72 28.71,313.72 29.43,313.85 30.14,313.60 30.85,313.83 31.56,314.04 32.28,313.26 32.99,313.69 33.70,313.78 34.28,312.76 34.85,312.24 35.42,312.10 36.00,310.54 36.22,310.38 36.44,309.33 36.67,309.28 36.89,308.77 37.11,307.69 37.33,306.60 37.56,306.41 37.78,305.71 38.00,305.22 38.15,304.32 38.31,303.75 38.46,303.25 38.62,302.25 38.77,301.45 38.92,301.29 39.08,299.86 39.23,299.65 39.38,298.66 39.54,298.34 39.69,297.01 39.85,297.18 40.00,295.86 40.13,294.82 40.27,294.31 40.40,293.70 40.53,292.58 40.67,292.25 40.80,291.52 40.93,291.06 41.07,289.99 41.20,289.17 41.33,288.39 41.47,288.17 41.60,287.64 41.73,286.49 41.87,285.45 42.00,285.30 42.14,284.18 42.29,283.28 42.43,282.49 42.57,282.42 42.71,281.74 42.86,280.85 43.00,279.97 43.14,279.35 43.29,278.30 43.43,278.32 43.57,277.00 43.71,276.57 43.86,276.03 44.00,275.32 44.20,274.27 44.40,273.39 44.60,272.95 44.80,271.83 45.00,271.83 45.20,270.65 45.40,270.45 45.60,269.17 45.80,268.58 46.00,267.75 46.25,267.18 46.50,266.19 46.75,265.25 47.00,265.22 47.25,264.03 47.50,263.24 48.00,262.30 48.33,263.31 48.67,264.10 49.00,265.14 49.10,265.86 49.20,266.26 49.30,267.53 49.40,268.15 49.50,268.06 49.60,269.53 49.70,270.31 49.80,270.88 49.90,270.94 50.00,272.33 50.18,272.86 50.36,272.97 50.55,273.69 50.73,275.36 50.91,275.79 51.09,276.11 51.27,276.69 51.45,277.46 51.64,278.28 51.82,279.55 52.00,279.85 52.14,280.37 52.29,281.83 52.43,282.43 52.57,282.53 52.71,283.96 52.86,284.39 53.00,285.28 53.14,285.88 53.29,286.82 53.43,287.43 53.57,288.20 53.71,288.27 53.86,289.48 54.00,290.03 54.18,290.97 54.36,291.39 54.55,292.56 54.73,292.96 54.91,293.40 55.09,294.10 55.27,294.73 55.45,295.81 55.64,296.10 55.82,297.24 56.00,297.64 56.20,298.69 56.40,299.40 56.60,300.14 56.80,301.16 57.00,301.01 57.20,302.54 57.40,302.87 57.60,303.66 57.80,304.47 58.00,305.34 58.33,305.54 58.67,306.25 59.00,307.46 59.33,307.24 59.67,308.47 60.00,309.14 60.33,309.20 60.67,310.44 61.00,311.18 61.40,312.03 61.80,312.03 62.20,313.28 62.60,313.41 63.00,314.00" fill="none" stroke="#000" stroke-width="1.4" stroke-linejoin="round" opacity="1"/>
<polyline points="14.00,314.00 14.75,313.85 15.50,314.47 16.25,312.79 17.00,313.89 17.71,313.37 18.43,312.50 19.14,313.08 19.86,311.83 20.57,311.67 21.29,311.40 22.00,311.49 22.40,309.88 22.80,309.68 23.20,309.06 23.60,308.70 24.00,308.59 24.40,307.03 24.80,307.39 25.20,306.03 25.60,305.61 26.00,304.59 26.44,304.46 26.89,304.74 27.33,303.61 27.78,303.30 28.22,301.92 28.67,301.34 29.11,300.75 29.56,300.71 30.00,300.24 30.43,299.94 30.86,298.03 31.29,298.69 31.71,298.41 32.14,297.22 32.57,295.76 33.00,295.64 33.50,294.61 34.00,294.44 34.50,295.26 35.00,294.20 35.50,293.78 36.00,293.52 36.57,293.31 37.14,292.34 37.71,291.92 38.29,291.51 38.86,291.21 39.43,290.60 40.00,290.33 40.75,289.23 41.50,289.80 42.25,289.17 43.00,289.47 44.00,288.28 45.00,288.43 45.50,288.67 46.00,290.49 46.50,291.25 47.00,291.28 47.60,291.16 48.20,292.38 48.80,292.72 49.40,292.71 50.00,292.56 50.40,293.24 50.80,294.06 51.20,294.47 51.60,295.28 52.00,296.26 52.30,297.48 52.60,296.60 52.90,298.22 53.20,297.97 53.50,298.81 53.80,300.76 54.10,301.04 54.40,302.35 54.70,302.20 55.00,302.13 55.38,303.42 55.75,304.42 56.12,305.66 56.50,306.37 56.88,306.08 57.25,306.59 57.62,306.66 58.00,308.26 58.43,308.05 58.86,308.52 59.29,308.84 59.71,309.39 60.14,311.19 60.57,310.75 61.00,312.84 61.60,311.66 62.20,313.47 62.80,312.53 63.40,312.73 64.00,314.00" fill="none" stroke="#111" stroke-width="1.0" stroke-linejoin="round" opacity="1"/>
<polyline points="38.00,314.00 38.43,313.65 38.86,312.60 39.29,312.52 39.71,311.40 40.14,310.69 40.57,310.85 41.00,310.21 41.14,309.64 41.29,308.80 41.43,307.44 41.57,307.27 41.71,306.64 41.86,305.67 42.00,305.43 42.14,304.04 42.29,304.04 42.43,303.07 42.57,301.65 42.71,300.94 42.86,300.86 43.00,300.32 43.14,298.87 43.29,298.38 43.43,298.09 43.57,296.81 43.71,296.79 43.86,295.70 44.00,294.56 44.14,294.15 44.29,293.65 44.43,292.80 44.57,292.32 44.71,291.07 44.86,291.01 45.00,289.86 45.18,289.42 45.36,288.68 45.55,287.74 45.73,286.98 45.91,286.65 46.09,286.08 46.27,285.19 46.45,284.25 46.64,283.25 46.82,282.29 47.00,282.47 47.29,281.49 47.57,280.90 47.86,279.69 48.14,279.25 48.43,278.91 48.71,278.05 49.00,277.10 49.50,276.31 50.00,275.93 50.50,275.89 51.00,274.88 51.50,274.68 52.00,274.10 52.33,275.06 52.67,275.64 53.00,275.78 53.33,276.17 53.67,277.10 54.00,277.92 54.29,278.80 54.57,279.74 54.86,280.53 55.14,280.40 55.43,281.90 55.71,282.60 56.00,283.37 56.20,283.77 56.40,284.17 56.60,285.45 56.80,286.11 57.00,286.68 57.20,287.61 57.40,287.75 57.60,288.19 57.80,289.35 58.00,290.30 58.22,290.37 58.44,291.58 58.67,292.43 58.89,292.40 59.11,293.44 59.33,294.18 59.56,294.63 59.78,295.04 60.00,295.75 60.22,296.92 60.44,297.62 60.67,297.96 60.89,298.25 61.11,299.64 61.33,300.27 61.56,300.40 61.78,301.41 62.00,302.40 62.30,303.09 62.60,303.42 62.90,304.08 63.20,304.89 63.50,305.19 63.80,305.89 64.10,306.58 64.40,307.80 64.70,308.16 65.00,309.06 65.43,309.47 65.86,310.16 66.29,310.36 66.71,310.83 67.14,312.35 67.57,312.30 68.00,312.61 68.67,313.47 69.33,313.95 70.00,314.00" fill="none" stroke="#2a2a2a" stroke-width="1.0" stroke-dasharray="1.8,0.9" stroke-linejoin="round" opacity="1"/>
<line x1="116.6" y1="262.7" x2="116.6" y2="315" stroke="#333" stroke-width="0.9"/>
<line x1="116.6" y1="314.5" x2="209.6" y2="314.5" stroke="#555" stroke-width="0.9"/>
<line x1="116.6" y1="317.8" x2="201.8" y2="317.8" stroke="#666" stroke-width="1.6"/>
<polygon points="199.8,316.0 204.8,317.8 199.8,319.6" fill="#111"/>
<text x="122.8" y="328.2" font-family="'Liberation Serif', serif" font-size="10.2" font-weight="normal" fill="#111" text-anchor="start" textLength="44.3" lengthAdjust="spacingAndGlyphs" stroke="#111" stroke-width="0.25" >Langerin</text>
<text x="145.2" y="291.4" font-family="'Liberation Serif', serif" font-size="10" font-weight="normal" fill="#111" text-anchor="start" textLength="21.7" lengthAdjust="spacingAndGlyphs" stroke="#111" stroke-width="0.25" ><tspan dy="2.00" font-size="10.00">3</tspan><tspan dy="-2.00" font-size="7.80">0</tspan>%</text>
<polyline points="117.00,313.50 117.18,312.41 117.36,312.25 117.55,311.27 117.73,310.80 117.91,309.52 118.09,308.85 118.27,309.32 118.45,308.48 118.64,307.35 118.82,306.76 119.00,305.71 119.12,305.59 119.25,304.41 119.38,304.29 119.50,303.32 119.62,302.63 119.75,302.06 119.88,300.45 120.00,299.45 120.10,298.93 120.19,298.19 120.29,297.36 120.38,296.60 120.48,296.50 120.57,296.16 120.67,294.95 120.76,294.82 120.86,294.06 120.95,292.33 121.05,292.26 121.14,291.31 121.24,290.26 121.33,290.55 121.43,288.99 121.52,288.65 121.62,288.03 121.71,287.69 121.81,286.63 121.90,285.59 122.00,284.94 122.10,283.88 122.19,284.13 122.29,283.45 122.38,281.81 122.48,280.87 122.57,280.42 122.67,279.82 122.76,279.77 122.86,279.06 122.95,278.26 123.05,276.60 123.14,276.77 123.24,275.97 123.33,275.18 123.43,274.87 123.52,273.04 123.62,272.43 123.71,272.45 123.81,271.96 123.90,270.93 124.00,269.76 124.15,269.41 124.30,268.91 124.45,267.43 124.60,266.99 124.75,266.21 124.90,265.35 125.05,265.08 125.20,264.00 125.35,263.39 125.50,262.57 126.15,262.56 126.80,261.12 127.03,262.73 127.27,262.87 127.50,263.44 127.60,265.31 127.70,265.26 127.80,266.92 127.90,267.64 128.00,268.47 128.06,268.27 128.12,269.35 128.18,269.63 128.24,271.34 128.29,271.94 128.35,272.39 128.41,272.88 128.47,273.45 128.53,274.74 128.59,275.03 128.65,275.92 128.71,276.04 128.76,276.84 128.82,277.35 128.88,278.84 128.94,279.36 129.00,279.57 129.07,281.16 129.14,281.15 129.21,282.04 129.29,282.44 129.36,283.30 129.43,284.69 129.50,284.80 129.57,285.32 129.64,286.42 129.71,286.92 129.79,288.34 129.86,288.11 129.93,289.86 130.00,289.47 130.07,291.19 130.14,291.63 130.21,291.80 130.29,292.83 130.36,293.31 130.43,294.00 130.50,294.64 130.57,295.55 130.64,297.02 130.71,297.74 130.79,298.37 130.86,298.09 130.93,299.03 131.00,300.48 131.22,300.14 131.44,301.61 131.67,301.75 131.89,303.24 132.11,302.75 132.33,304.37 132.56,304.48 132.78,304.90 133.00,305.40 133.40,307.00 133.80,307.23 134.20,307.42 134.60,308.32 135.00,309.49 135.60,309.06 136.20,309.89 136.80,309.77 137.40,310.22 138.00,311.32 138.70,311.45 139.40,311.04 140.10,311.10 140.80,311.30 141.50,312.13 142.20,312.19 142.90,312.13 143.60,312.25 144.30,312.93 145.00,313.25 145.71,313.42 146.43,313.19 147.14,312.79 147.86,312.67 148.57,313.52 149.29,313.18 150.00,313.60 150.71,312.85 151.43,313.80 152.14,313.28 152.86,313.93 153.57,314.01 154.29,313.61 155.00,313.09 155.71,314.21 156.43,313.73 157.14,314.26 157.86,313.58 158.57,313.53 159.29,314.35 160.00,314.00" fill="none" stroke="#000" stroke-width="1.3" stroke-linejoin="round" opacity="1"/>
<polyline points="118.00,314.00 118.18,313.13 118.35,312.18 118.53,311.73 118.71,311.29 118.88,309.88 119.06,309.79 119.24,308.99 119.41,308.37 119.59,307.19 119.76,307.20 119.94,306.62 120.12,305.97 120.29,304.61 120.47,304.37 120.65,303.27 120.82,303.01 121.00,301.47 121.10,301.73 121.19,301.12 121.29,299.85 121.38,299.16 121.48,298.47 121.57,297.76 121.67,296.42 121.76,296.85 121.86,295.24 121.95,294.48 122.05,293.67 122.14,293.13 122.24,293.09 122.33,291.44 122.43,290.80 122.52,290.81 122.62,289.49 122.71,288.56 122.81,288.55 122.90,287.81 123.00,287.03 123.09,286.55 123.17,285.13 123.26,285.36 123.35,284.48 123.43,282.98 123.52,282.37 123.61,282.12 123.70,281.44 123.78,280.47 123.87,279.59 123.96,279.23 124.04,278.22 124.13,278.07 124.22,277.69 124.30,276.14 124.39,275.96 124.48,275.47 124.57,274.08 124.65,274.17 124.74,273.61 124.83,272.26 124.91,271.60 125.00,271.41 125.14,270.25 125.29,269.30 125.43,269.17 125.57,268.19 125.71,266.88 125.86,265.97 126.00,265.30 126.65,264.67 127.30,264.58 127.50,265.17 127.70,266.10 127.90,266.78 128.10,267.62 128.30,267.46 128.36,268.74 128.41,269.99 128.47,270.69 128.52,270.59 128.58,271.52 128.63,272.49 128.69,272.89 128.74,273.81 128.80,273.98 128.86,275.14 128.91,275.95 128.97,276.09 129.02,276.96 129.08,278.67 129.13,279.17 129.19,280.08 129.24,280.44 129.30,281.37 129.38,282.19 129.46,282.93 129.54,282.64 129.62,284.10 129.70,284.39 129.78,285.61 129.86,285.86 129.94,286.92 130.02,288.11 130.10,288.48 130.18,288.77 130.26,289.82 130.34,290.45 130.42,291.81 130.50,291.75 130.62,292.46 130.73,293.56 130.85,293.62 130.96,294.88 131.08,296.01 131.19,296.17 131.31,296.57 131.42,297.50 131.54,298.27 131.65,298.50 131.77,299.16 131.88,299.87 132.00,300.75 132.25,301.58 132.50,302.12 132.75,302.75 133.00,303.26 133.25,304.49 133.50,305.53 133.75,305.94 134.00,306.58 134.50,307.26 135.00,307.31 135.50,308.50 136.00,308.79 136.50,309.47 137.00,310.14 137.71,310.32 138.43,310.49 139.14,310.76 139.86,311.09 140.57,311.80 141.29,312.00 142.00,312.60 142.73,312.01 143.45,312.51 144.18,313.21 144.91,312.55 145.64,313.02 146.36,313.04 147.09,312.88 147.82,313.81 148.55,313.07 149.27,313.74 150.00,313.09 150.71,313.00 151.43,313.98 152.14,313.48 152.86,313.05 153.57,313.45 154.29,313.54 155.00,313.91 155.71,313.17 156.43,313.33 157.14,314.23 157.86,313.98 158.57,313.30 159.29,313.54 160.00,313.57 160.71,313.98 161.43,313.93 162.14,314.22 162.86,314.21 163.57,313.86 164.29,314.14 165.00,314.17 165.71,314.20 166.43,313.88 167.14,314.27 167.86,314.20 168.57,314.46 169.29,313.53 170.00,314.00" fill="none" stroke="#222" stroke-width="1.0" stroke-dasharray="1.6,0.8" stroke-linejoin="round" opacity="1"/>
<polyline points="118.00,314.00 118.40,313.77 118.80,312.30 119.20,312.47 119.60,311.69 120.00,311.00 120.40,310.86 120.80,309.87 121.20,309.12 121.60,308.88 122.00,308.37 122.21,307.39 122.43,306.45 122.64,305.81 122.86,305.10 123.07,304.65 123.29,303.51 123.50,302.89 123.71,302.34 123.93,301.46 124.14,300.68 124.36,300.43 124.57,299.78 124.79,298.71 125.00,297.94 125.14,296.97 125.29,296.38 125.43,295.50 125.57,295.22 125.71,294.51 125.86,293.30 126.00,293.42 126.14,292.11 126.29,291.91 126.43,291.20 126.57,290.60 126.71,289.13 126.86,288.64 127.00,288.41 127.18,286.83 127.36,286.18 127.55,286.02 127.73,285.27 127.91,285.01 128.09,284.18 128.27,283.27 128.45,283.04 128.64,281.88 128.82,281.20 129.00,280.69 130.20,279.89 130.63,280.52 131.07,281.43 131.50,281.85 131.64,283.18 131.77,283.63 131.91,284.21 132.05,284.51 132.18,285.51 132.32,286.26 132.45,287.15 132.59,287.89 132.73,288.93 132.86,289.74 133.00,289.99 133.11,290.65 133.21,291.55 133.32,292.64 133.43,292.70 133.54,293.60 133.64,294.60 133.75,294.67 133.86,295.53 133.96,296.91 134.07,297.47 134.18,297.87 134.29,298.18 134.39,299.68 134.50,300.19 134.65,301.02 134.80,301.89 134.95,302.49 135.10,302.72 135.25,303.16 135.40,303.99 135.55,304.91 135.70,305.60 135.85,305.99 136.00,306.68 136.43,307.70 136.86,308.25 137.29,308.57 137.71,309.78 138.14,309.99 138.57,309.97 139.00,310.91 139.67,311.62 140.33,311.47 141.00,312.19 141.67,311.84 142.33,312.47 143.00,313.34 143.71,313.15 144.41,313.29 145.12,312.87 145.82,313.23 146.53,313.35 147.24,313.12 147.94,313.56 148.65,313.50 149.35,314.03 150.06,313.66 150.76,313.56 151.47,313.33 152.18,313.42 152.88,314.08 153.59,313.49 154.29,313.54 155.00,314.00" fill="none" stroke="#111" stroke-width="0.9" stroke-linejoin="round" opacity="1"/>
<text x="0.3" y="345.7" font-family="'Liberation Sans', sans-serif" font-size="12.5" font-weight="bold" fill="#000" text-anchor="start" stroke="#000" stroke-width="0.1" >D</text>
<line x1="32.2" y1="357.0" x2="32.2" y2="458.5" stroke="#111" stroke-width="1.1"/>
<line x1="32.2" y1="453.7" x2="246.5" y2="453.7" stroke="#111" stroke-width="1.3"/>
<line x1="27.5" y1="357.4" x2="32.2" y2="357.4" stroke="#111" stroke-width="1.0"/>
<text x="10.2" y="360.0" font-family="'Liberation Serif', serif" font-size="8.3" font-weight="normal" fill="#111" text-anchor="start" textLength="14.5" lengthAdjust="spacingAndGlyphs" stroke="#111" stroke-width="0.25" ><tspan font-size="6.47">2</tspan><tspan font-size="6.47">0</tspan><tspan font-size="6.47">0</tspan></text>
<line x1="27.5" y1="381.54999999999995" x2="32.2" y2="381.54999999999995" stroke="#111" stroke-width="1.0"/>
<text x="10.5" y="384.15" font-family="'Liberation Serif', serif" font-size="8.3" font-weight="normal" fill="#111" text-anchor="start" textLength="14" lengthAdjust="spacingAndGlyphs" stroke="#111" stroke-width="0.25" ><tspan font-size="6.47">1</tspan><tspan dy="1.66" font-size="8.30">5</tspan><tspan dy="-1.66" font-size="6.47">0</tspan></text>
<line x1="27.5" y1="405.7" x2="32.2" y2="405.7" stroke="#111" stroke-width="1.0"/>
<text x="10.5" y="408.3" font-family="'Liberation Serif', serif" font-size="8.3" font-weight="normal" fill="#111" text-anchor="start" textLength="14" lengthAdjust="spacingAndGlyphs" stroke="#111" stroke-width="0.25" ><tspan font-size="6.47">1</tspan><tspan font-size="6.47">0</tspan><tspan font-size="6.47">0</tspan></text>
<line x1="27.5" y1="429.85" x2="32.2" y2="429.85" stroke="#111" stroke-width="1.0"/>
<text x="15" y="432.45000000000005" font-family="'Liberation Serif', serif" font-size="8.3" font-weight="normal" fill="#111" text-anchor="start" textLength="9.5" lengthAdjust="spacingAndGlyphs" stroke="#111" stroke-width="0.25" ><tspan dy="1.66" font-size="8.30">5</tspan><tspan dy="-1.66" font-size="6.47">0</tspan></text>
<line x1="27.5" y1="454.0" x2="32.2" y2="454.0" stroke="#111" stroke-width="1.0"/>
<text x="19.5" y="456.6" font-family="'Liberation Serif', serif" font-size="8.3" font-weight="normal" fill="#111" text-anchor="start" textLength="5" lengthAdjust="spacingAndGlyphs" stroke="#111" stroke-width="0.25" ><tspan font-size="6.47">0</tspan></text>
<line x1="32.2" y1="454.0" x2="32.2" y2="458.5" stroke="#111" stroke-width="1.0"/>
<line x1="56" y1="454.0" x2="56" y2="458.5" stroke="#111" stroke-width="1.0"/>
<line x1="79.2" y1="454.0" x2="79.2" y2="458.5" stroke="#111" stroke-width="1.0"/>
<line x1="102.8" y1="454.0" x2="102.8" y2="458.5" stroke="#111" stroke-width="1.0"/>
<line x1="126.5" y1="454.0" x2="126.5" y2="458.5" stroke="#111" stroke-width="1.0"/>
<line x1="150.2" y1="454.0" x2="150.2" y2="458.5" stroke="#111" stroke-width="1.0"/>
<line x1="174.2" y1="454.0" x2="174.2" y2="458.5" stroke="#111" stroke-width="1.0"/>
<line x1="197.8" y1="454.0" x2="197.8" y2="458.5" stroke="#111" stroke-width="1.0"/>
<line x1="222" y1="454.0" x2="222" y2="458.5" stroke="#111" stroke-width="1.0"/>
<line x1="246.2" y1="454.0" x2="246.2" y2="458.5" stroke="#111" stroke-width="1.0"/>
<text x="38.7" y="464.6" font-family="'Liberation Serif', serif" font-size="7.8" font-weight="normal" fill="#111" text-anchor="start" textLength="10.5" lengthAdjust="spacingAndGlyphs" stroke="#111" stroke-width="0.25" >UT</text>
<text x="59.8" y="464.6" font-family="'Liberation Serif', serif" font-size="7.8" font-weight="normal" fill="#111" text-anchor="start" textLength="14" lengthAdjust="spacingAndGlyphs" stroke="#111" stroke-width="0.25" >LPS</text>
<text x="78.2" y="464.6" font-family="'Liberation Serif', serif" font-size="7.8" font-weight="normal" fill="#111" text-anchor="start" textLength="23.3" lengthAdjust="spacingAndGlyphs" stroke="#111" stroke-width="0.25" >CD<tspan dy="1.56" font-size="7.80">4</tspan><tspan dy="-1.56" font-size="6.08">0</tspan>L</text>
<text x="104.6" y="464.6" font-family="'Liberation Serif', serif" font-size="7.8" font-weight="normal" fill="#111" text-anchor="start" textLength="12.9" lengthAdjust="spacingAndGlyphs" stroke="#111" stroke-width="0.25" >UT</text>
<text x="130.5" y="464.6" font-family="'Liberation Serif', serif" font-size="7.8" font-weight="normal" fill="#111" text-anchor="start" textLength="13.2" lengthAdjust="spacingAndGlyphs" stroke="#111" stroke-width="0.25" >LPS</text>
<text x="150" y="464.6" font-family="'Liberation Serif', serif" font-size="7.8" font-weight="normal" fill="#111" text-anchor="start" textLength="26.2" lengthAdjust="spacingAndGlyphs" stroke="#111" stroke-width="0.25" >CD<tspan dy="1.56" font-size="7.80">4</tspan><tspan dy="-1.56" font-size="6.08">0</tspan>L</text>
<text x="180" y="464.6" font-family="'Liberation Serif', serif" font-size="7.8" font-weight="normal" fill="#111" text-anchor="start" textLength="10.5" lengthAdjust="spacingAndGlyphs" stroke="#111" stroke-width="0.25" >UT</text>
<text x="201" y="464.6" font-family="'Liberation Serif', serif" font-size="7.8" font-weight="normal" fill="#111" text-anchor="start" textLength="15" lengthAdjust="spacingAndGlyphs" stroke="#111" stroke-width="0.25" >LPS</text>
<text x="221" y="464.6" font-family="'Liberation Serif', serif" font-size="7.8" font-weight="normal" fill="#111" text-anchor="start" textLength="26.5" lengthAdjust="spacingAndGlyphs" stroke="#111" stroke-width="0.25" >CD<tspan dy="1.56" font-size="7.80">4</tspan><tspan dy="-1.56" font-size="6.08">0</tspan>L</text>
<text transform="translate(6.6,463.6) rotate(-90)" x="0" y="0" font-family="'Liberation Serif', serif" font-size="8.2" font-weight="normal" fill="#111" textLength="108.6" lengthAdjust="spacingAndGlyphs" stroke="#111" stroke-width="0.12">Concentration&#160;&#160;of&#160;&#160;IL<tspan font-size="6.40">1</tspan><tspan font-size="6.40">2</tspan>&#160;&#160;(pg/mL)</text>
<rect x="61" y="357.2" width="11.8" height="96.80000000000001" fill="#959595" stroke="#222" stroke-width="1"/>
<rect x="83.6" y="357.2" width="12.2" height="96.80000000000001" fill="#959595" stroke="#222" stroke-width="1"/>
<rect x="132.6" y="357.4" width="11.6" height="96.60000000000002" fill="#fff" stroke="#333" stroke-width="1"/>
<rect x="156.9" y="357.4" width="11.6" height="96.60000000000002" fill="#fff" stroke="#333" stroke-width="1"/>
<rect x="203" y="449" width="12" height="5.0" fill="#111" stroke="#000" stroke-width="1"/>
<text x="66.5" y="353.6" font-family="'Liberation Sans', sans-serif" font-size="7.5" font-weight="normal" fill="#111" text-anchor="start" textLength="22.7" lengthAdjust="spacingAndGlyphs" stroke="#111" stroke-width="0.25" >&gt;200</text>
<text x="138.5" y="353.6" font-family="'Liberation Sans', sans-serif" font-size="7.5" font-weight="normal" fill="#111" text-anchor="start" textLength="23.4" lengthAdjust="spacingAndGlyphs" stroke="#111" stroke-width="0.25" >&gt;200</text>
<rect x="171.9" y="368.1" width="8.4" height="6.6" fill="#8a8a8a" stroke="#222" stroke-width="1.1"/>
<rect x="171.9" y="394" width="8.4" height="6.6" fill="#fff" stroke="#222" stroke-width="1.1"/>
<rect x="171.9" y="418.8" width="8.4" height="6.6" fill="#111" stroke="#222" stroke-width="1.1"/>
<text x="183.2" y="368.9" font-family="'Liberation Serif', serif" font-size="9" font-weight="normal" fill="#111" text-anchor="start" textLength="60.5" lengthAdjust="spacingAndGlyphs" stroke="#111" stroke-width="0.25" >MoDCs&#160;derived</text>
<text x="183.2" y="378.4" font-family="'Liberation Serif', serif" font-size="9" font-weight="normal" fill="#111" text-anchor="start" textLength="33.8" lengthAdjust="spacingAndGlyphs" stroke="#111" stroke-width="0.25" >with&#160;&#160;IL<tspan dy="1.80" font-size="9.00">4</tspan></text>
<text x="183.2" y="395.7" font-family="'Liberation Serif', serif" font-size="9" font-weight="normal" fill="#111" text-anchor="start" textLength="60.5" lengthAdjust="spacingAndGlyphs" stroke="#111" stroke-width="0.25" >MoDCs&#160;derived</text>
<text x="183.2" y="405.2" font-family="'Liberation Serif', serif" font-size="9" font-weight="normal" fill="#111" text-anchor="start" textLength="36" lengthAdjust="spacingAndGlyphs" stroke="#111" stroke-width="0.25" >with&#160;&#160;IL<tspan font-size="7.02">1</tspan><tspan dy="1.80" font-size="9.00">3</tspan></text>
<text x="183.2" y="420" font-family="'Liberation Serif', serif" font-size="9" font-weight="normal" fill="#111" text-anchor="start" textLength="60.5" lengthAdjust="spacingAndGlyphs" stroke="#111" stroke-width="0.25" >MoDCs&#160;derived</text>
<text x="183.2" y="429.4" font-family="'Liberation Serif', serif" font-size="9" font-weight="normal" fill="#111" text-anchor="start" textLength="36" lengthAdjust="spacingAndGlyphs" stroke="#111" stroke-width="0.25" >with&#160;&#160;IL<tspan font-size="7.02">1</tspan><tspan dy="1.80" font-size="9.00">5</tspan></text>
<text x="258" y="11.2" font-family="'Liberation Sans', sans-serif" font-size="12.5" font-weight="bold" fill="#000" text-anchor="start" stroke="#000" stroke-width="0.1" >B</text>
<text x="332.5" y="20.2" font-family="'Liberation Serif', serif" font-size="9.6" font-weight="bold" fill="#000" text-anchor="start" textLength="122" lengthAdjust="spacingAndGlyphs" stroke="#000" stroke-width="0.1" >MoDCs&#160;&#160;derived&#160;&#160;with&#160;&#160;IL<tspan font-size="7.49">1</tspan><tspan dy="1.92" font-size="9.60">5</tspan></text>
<text x="332.2" y="140.4" font-family="'Liberation Serif', serif" font-size="9.6" font-weight="bold" fill="#000" text-anchor="start" textLength="122.5" lengthAdjust="spacingAndGlyphs" stroke="#000" stroke-width="0.1" >MoDCs&#160;&#160;derived&#160;&#160;with&#160;&#160;IL<tspan font-size="7.49">1</tspan><tspan dy="1.92" font-size="9.60">3</tspan></text>
<text x="333" y="217.8" font-family="'Liberation Serif', serif" font-size="9.6" font-weight="bold" fill="#000" text-anchor="start" textLength="118.2" lengthAdjust="spacingAndGlyphs" stroke="#000" stroke-width="0.1" >MoDCs&#160;&#160;derived&#160;&#160;with&#160;&#160;IL<tspan dy="1.92" font-size="9.60">4</tspan></text>
<text x="289.3" y="31.8" font-family="'Liberation Serif', serif" font-size="9" font-weight="bold" fill="#000" text-anchor="start" textLength="41" lengthAdjust="spacingAndGlyphs" stroke="#000" stroke-width="0.1" >untreated</text>
<text x="362.5" y="31.8" font-family="'Liberation Serif', serif" font-size="9" font-weight="bold" fill="#000" text-anchor="start" textLength="16" lengthAdjust="spacingAndGlyphs" stroke="#000" stroke-width="0.1" >LPS</text>
<text x="416.7" y="31.8" font-family="'Liberation Serif', serif" font-size="9" font-weight="bold" fill="#000" text-anchor="start" textLength="30" lengthAdjust="spacingAndGlyphs" stroke="#000" stroke-width="0.1" >CD<tspan dy="1.80" font-size="9.00">4</tspan><tspan dy="-1.80" font-size="7.02">0</tspan>L</text>
<text x="467.5" y="31.8" font-family="'Liberation Serif', serif" font-size="9" font-weight="bold" fill="#000" text-anchor="start" textLength="46.5" lengthAdjust="spacingAndGlyphs" stroke="#000" stroke-width="0.1" >LPS-CD<tspan dy="1.80" font-size="9.00">4</tspan><tspan dy="-1.80" font-size="7.02">0</tspan>L</text>
<text x="289.3" y="151.4" font-family="'Liberation Serif', serif" font-size="9" font-weight="bold" fill="#000" text-anchor="start" textLength="41" lengthAdjust="spacingAndGlyphs" stroke="#000" stroke-width="0.1" >untreated</text>
<text x="362.5" y="151.4" font-family="'Liberation Serif', serif" font-size="9" font-weight="bold" fill="#000" text-anchor="start" textLength="16" lengthAdjust="spacingAndGlyphs" stroke="#000" stroke-width="0.1" >LPS</text>
<text x="416.7" y="151.4" font-family="'Liberation Serif', serif" font-size="9" font-weight="bold" fill="#000" text-anchor="start" textLength="30" lengthAdjust="spacingAndGlyphs" stroke="#000" stroke-width="0.1" >CD<tspan dy="1.80" font-size="9.00">4</tspan><tspan dy="-1.80" font-size="7.02">0</tspan>L</text>
<text x="467.5" y="151.4" font-family="'Liberation Serif', serif" font-size="9" font-weight="bold" fill="#000" text-anchor="start" textLength="46.5" lengthAdjust="spacingAndGlyphs" stroke="#000" stroke-width="0.1" >LPS-CD<tspan dy="1.80" font-size="9.00">4</tspan><tspan dy="-1.80" font-size="7.02">0</tspan>L</text>
<text x="289.3" y="228.4" font-family="'Liberation Serif', serif" font-size="9" font-weight="bold" fill="#000" text-anchor="start" textLength="41" lengthAdjust="spacingAndGlyphs" stroke="#000" stroke-width="0.1" >untreated</text>
<text x="362.5" y="228.4" font-family="'Liberation Serif', serif" font-size="9" font-weight="bold" fill="#000" text-anchor="start" textLength="16" lengthAdjust="spacingAndGlyphs" stroke="#000" stroke-width="0.1" >LPS</text>
<text x="416.7" y="228.4" font-family="'Liberation Serif', serif" font-size="9" font-weight="bold" fill="#000" text-anchor="start" textLength="30" lengthAdjust="spacingAndGlyphs" stroke="#000" stroke-width="0.1" >CD<tspan dy="1.80" font-size="9.00">4</tspan><tspan dy="-1.80" font-size="7.02">0</tspan>L</text>
<text x="467.5" y="228.4" font-family="'Liberation Serif', serif" font-size="9" font-weight="bold" fill="#000" text-anchor="start" textLength="46.5" lengthAdjust="spacingAndGlyphs" stroke="#000" stroke-width="0.1" >LPS-CD<tspan dy="1.80" font-size="9.00">4</tspan><tspan dy="-1.80" font-size="7.02">0</tspan>L</text>
<path d="M283.4 36.4h2.4M283.1 38.4h2.7M284.0 39.4h1.8M283.2 41.4h2.6M283.8 42.4h2.0M283.9 43.4h1.9M283.6 45.4h2.2M283.6 46.4h2.2M283.0 47.4h2.8M282.9 48.4h2.9M283.3 49.4h2.5M284.0 50.4h1.8M283.0 53.4h2.8M283.3 55.4h2.5M283.0 57.4h2.8M283.6 58.4h2.2M283.8 59.4h2.0M283.0 60.4h2.8M283.1 61.4h2.7M283.8 62.4h2.0M283.8 63.4h2.0M283.4 65.4h2.4M283.4 66.4h2.4M283.6 67.4h2.2M283.9 68.4h1.9M283.7 70.4h2.1M286.8 71.6v2.0M287.8 71.6v1.6M288.8 71.6v2.0M289.8 71.6v2.5M290.8 71.6v2.0M292.8 71.6v2.2M295.8 71.6v2.1M297.8 71.6v2.8M298.8 71.6v2.8M299.8 71.6v1.9M300.8 71.6v1.8M301.8 71.6v1.9M303.8 71.6v2.1M304.8 71.6v2.4M305.8 71.6v2.7M306.8 71.6v2.3M307.8 71.6v2.0M309.8 71.6v2.5M310.8 71.6v2.0M311.8 71.6v1.7M312.8 71.6v2.7M313.8 71.6v2.5M314.8 71.6v2.3M315.8 71.6v2.3M316.8 71.6v1.7M317.8 71.6v1.9M318.8 71.6v2.5M319.8 71.6v2.1M324.8 71.6v2.0M325.8 71.6v2.5M326.8 71.6v2.1M327.8 71.6v2.5M328.8 71.6v1.9M330.8 71.6v2.4M331.8 71.6v1.7M334.8 71.6v1.7" stroke="#111" stroke-width="1.05" fill="none"/>
<rect x="285.8" y="35.4" width="50.599999999999966" height="36.199999999999996" fill="none" stroke="#000" stroke-width="1.4"/>
<path d="M343.3 36.4h2.0M343.2 37.4h2.1M343.5 38.4h1.8M342.8 39.4h2.5M342.6 40.4h2.7M342.7 41.4h2.6M343.0 42.4h2.3M343.1 43.4h2.2M342.6 44.4h2.7M343.5 46.4h1.8M343.4 48.4h1.9M343.4 49.4h1.9M342.5 51.4h2.8M342.7 53.4h2.6M342.7 54.4h2.6M343.4 56.4h1.9M342.5 58.4h2.8M342.7 59.4h2.6M343.0 61.4h2.3M342.7 62.4h2.6M342.9 63.4h2.4M342.7 65.4h2.6M342.7 66.4h2.6M342.9 68.4h2.4M342.9 70.4h2.4M346.3 71.6v1.7M347.3 71.6v2.1M348.3 71.6v2.0M349.3 71.6v2.5M350.3 71.6v1.9M351.3 71.6v2.3M352.3 71.6v2.8M353.3 71.6v2.0M355.3 71.6v2.3M356.3 71.6v2.7M357.3 71.6v2.6M358.3 71.6v2.5M359.3 71.6v2.2M362.3 71.6v2.0M363.3 71.6v1.9M364.3 71.6v2.0M365.3 71.6v2.5M366.3 71.6v1.7M367.3 71.6v2.2M368.3 71.6v1.8M369.3 71.6v1.6M372.3 71.6v2.5M374.3 71.6v1.7M375.3 71.6v2.2M376.3 71.6v2.3M377.3 71.6v2.8M378.3 71.6v2.4M380.3 71.6v1.9M381.3 71.6v1.8M382.3 71.6v2.6M384.3 71.6v1.8M385.3 71.6v2.7M387.3 71.6v2.6M390.3 71.6v1.8M392.3 71.6v2.1M393.3 71.6v2.1M395.3 71.6v1.7" stroke="#111" stroke-width="1.05" fill="none"/>
<rect x="345.3" y="35.4" width="51.099999999999966" height="36.199999999999996" fill="none" stroke="#000" stroke-width="1.4"/>
<path d="M403.7 36.4h2.5M403.4 38.4h2.8M403.9 40.4h2.3M404.1 41.4h2.1M404.3 42.4h1.9M404.2 43.4h2.0M403.3 44.4h2.9M404.4 45.4h1.8M404.2 46.4h2.0M403.5 48.4h2.7M404.1 51.4h2.1M403.8 52.4h2.4M404.0 53.4h2.2M403.7 54.4h2.5M404.1 57.4h2.1M403.8 58.4h2.4M404.2 59.4h2.0M404.0 60.4h2.2M403.3 61.4h2.9M403.5 66.4h2.7M403.7 67.4h2.5M404.1 68.4h2.1M403.4 69.4h2.8M403.7 70.4h2.5M407.2 71.6v2.0M409.2 71.6v1.8M410.2 71.6v2.2M411.2 71.6v2.5M412.2 71.6v2.4M413.2 71.6v2.3M414.2 71.6v2.1M415.2 71.6v1.8M417.2 71.6v1.7M419.2 71.6v1.7M420.2 71.6v1.9M421.2 71.6v2.3M422.2 71.6v2.3M423.2 71.6v2.3M424.2 71.6v1.7M425.2 71.6v1.7M426.2 71.6v2.7M427.2 71.6v2.5M429.2 71.6v2.9M431.2 71.6v2.7M432.2 71.6v1.8M434.2 71.6v2.6M435.2 71.6v2.6M436.2 71.6v1.9M437.2 71.6v1.6M438.2 71.6v1.9M439.2 71.6v2.5M440.2 71.6v2.8M441.2 71.6v2.7M442.2 71.6v2.8M444.2 71.6v2.6M445.2 71.6v2.6M446.2 71.6v2.7M447.2 71.6v2.1M451.2 71.6v2.4M452.2 71.6v2.3M454.2 71.6v2.8M455.2 71.6v1.9M456.2 71.6v2.2" stroke="#111" stroke-width="1.05" fill="none"/>
<rect x="406.2" y="35.4" width="51.900000000000034" height="36.199999999999996" fill="none" stroke="#000" stroke-width="1.4"/>
<path d="M465.8 37.5h1.9M465.8 38.5h1.9M465.3 40.5h2.4M465.1 41.5h2.6M465.7 42.5h2.0M465.1 44.5h2.6M465.5 47.5h2.2M465.3 48.5h2.4M465.7 51.5h2.0M465.5 53.5h2.2M465.7 54.5h2.0M464.9 56.5h2.8M465.8 57.5h1.9M465.7 58.5h2.0M465.9 60.5h1.8M465.5 61.5h2.2M465.3 62.5h2.4M465.5 63.5h2.2M465.3 64.5h2.4M465.9 65.5h1.8M464.8 66.5h2.9M465.7 67.5h2.0M465.6 68.5h2.1M465.3 69.5h2.4M465.3 70.5h2.4M468.7 71.6v2.8M470.7 71.6v2.3M474.7 71.6v2.4M475.7 71.6v2.0M479.7 71.6v2.0M482.7 71.6v2.4M483.7 71.6v2.3M484.7 71.6v1.7M485.7 71.6v2.0M487.7 71.6v2.1M488.7 71.6v1.9M489.7 71.6v1.8M490.7 71.6v2.7M491.7 71.6v2.2M492.7 71.6v2.0M493.7 71.6v1.7M494.7 71.6v2.0M496.7 71.6v2.8M497.7 71.6v2.8M498.7 71.6v1.7M499.7 71.6v2.4M501.7 71.6v2.6M502.7 71.6v2.7M503.7 71.6v2.2M505.7 71.6v1.9M506.7 71.6v1.8M507.7 71.6v2.5M508.7 71.6v2.1M509.7 71.6v2.4M511.7 71.6v1.9M514.7 71.6v1.7" stroke="#111" stroke-width="1.05" fill="none"/>
<rect x="467.7" y="35.5" width="50.50000000000006" height="36.099999999999994" fill="none" stroke="#000" stroke-width="1.4"/>
<path d="M283.8 80.8h2.0M283.4 81.8h2.4M283.0 83.8h2.8M283.6 84.8h2.2M283.6 86.8h2.2M283.6 87.8h2.2M283.5 88.8h2.3M283.3 89.8h2.5M283.5 90.8h2.3M283.7 91.8h2.1M284.0 92.8h1.8M282.9 94.8h2.9M283.3 95.8h2.5M283.9 97.8h1.9M283.8 98.8h2.0M283.1 100.8h2.7M283.4 101.8h2.4M283.4 102.8h2.4M283.3 103.8h2.5M283.2 104.8h2.6M283.2 105.8h2.6M283.2 108.8h2.6M283.7 110.8h2.1M283.0 111.8h2.8M284.0 112.8h1.8M283.3 113.8h2.5M287.8 115.3v2.9M288.8 115.3v2.6M289.8 115.3v1.6M290.8 115.3v1.7M291.8 115.3v2.3M292.8 115.3v2.8M293.8 115.3v1.8M294.8 115.3v2.6M296.8 115.3v1.6M298.8 115.3v2.9M299.8 115.3v2.4M300.8 115.3v2.6M301.8 115.3v2.0M303.8 115.3v2.6M304.8 115.3v2.4M305.8 115.3v2.7M306.8 115.3v2.3M307.8 115.3v2.8M309.8 115.3v1.9M310.8 115.3v1.9M311.8 115.3v1.9M312.8 115.3v2.6M313.8 115.3v2.0M315.8 115.3v2.3M316.8 115.3v2.7M318.8 115.3v2.6M320.8 115.3v2.0M321.8 115.3v2.8M322.8 115.3v2.5M323.8 115.3v2.2M324.8 115.3v2.7M325.8 115.3v2.7M326.8 115.3v2.6M328.8 115.3v2.7M330.8 115.3v1.6M331.8 115.3v2.9M332.8 115.3v2.8M333.8 115.3v2.6M334.8 115.3v1.8" stroke="#111" stroke-width="1.05" fill="none"/>
<rect x="285.8" y="79.8" width="50.599999999999966" height="35.5" fill="none" stroke="#000" stroke-width="1.4"/>
<path d="M343.4 80.8h1.9M342.5 81.8h2.8M342.5 82.8h2.8M343.2 84.8h2.1M343.5 86.8h1.8M343.2 87.8h2.1M343.4 88.8h1.9M342.4 89.8h2.9M342.5 90.8h2.8M343.0 91.8h2.3M343.0 92.8h2.3M342.7 93.8h2.6M342.7 94.8h2.6M343.4 95.8h1.9M343.0 96.8h2.3M343.3 98.8h2.0M343.3 102.8h2.0M343.4 103.8h1.9M342.9 104.8h2.4M342.9 105.8h2.4M343.5 106.8h1.8M342.8 107.8h2.5M342.9 108.8h2.4M342.4 109.8h2.9M343.1 111.8h2.2M343.0 112.8h2.3M346.3 115.3v2.1M347.3 115.3v1.8M349.3 115.3v2.4M351.3 115.3v2.4M352.3 115.3v1.9M353.3 115.3v1.8M357.3 115.3v2.5M358.3 115.3v2.4M359.3 115.3v2.0M361.3 115.3v2.6M363.3 115.3v2.4M365.3 115.3v2.4M367.3 115.3v2.5M368.3 115.3v2.3M369.3 115.3v2.5M370.3 115.3v2.4M371.3 115.3v1.9M372.3 115.3v1.9M374.3 115.3v2.5M375.3 115.3v2.2M376.3 115.3v1.8M378.3 115.3v2.3M379.3 115.3v2.7M380.3 115.3v1.8M382.3 115.3v2.4M386.3 115.3v2.1M389.3 115.3v1.8M390.3 115.3v1.7M391.3 115.3v2.6M392.3 115.3v2.2M393.3 115.3v2.1M395.3 115.3v2.2" stroke="#111" stroke-width="1.05" fill="none"/>
<rect x="345.3" y="79.8" width="51.099999999999966" height="35.5" fill="none" stroke="#000" stroke-width="1.4"/>
<path d="M403.5 80.8h2.7M403.7 82.8h2.5M403.8 83.8h2.4M404.0 84.8h2.2M404.0 85.8h2.2M404.2 86.8h2.0M404.3 87.8h1.9M403.6 88.8h2.6M404.0 89.8h2.2M403.5 90.8h2.7M403.7 91.8h2.5M403.9 93.8h2.3M404.0 95.8h2.2M403.9 96.8h2.3M403.6 97.8h2.6M404.0 98.8h2.2M403.5 99.8h2.7M404.0 100.8h2.2M403.4 101.8h2.8M403.3 102.8h2.9M404.0 103.8h2.2M404.0 104.8h2.2M403.6 105.8h2.6M403.8 106.8h2.4M403.4 107.8h2.8M403.7 109.8h2.5M403.9 110.8h2.3M403.9 112.8h2.3M407.2 115.3v2.2M408.2 115.3v2.7M409.2 115.3v2.6M410.2 115.3v1.7M411.2 115.3v2.3M414.2 115.3v1.9M415.2 115.3v2.7M416.2 115.3v1.7M418.2 115.3v1.7M419.2 115.3v2.5M420.2 115.3v1.7M421.2 115.3v2.1M422.2 115.3v2.9M425.2 115.3v2.0M426.2 115.3v1.6M428.2 115.3v1.9M429.2 115.3v1.9M431.2 115.3v2.3M432.2 115.3v1.7M433.2 115.3v2.7M436.2 115.3v1.9M437.2 115.3v2.3M438.2 115.3v2.2M439.2 115.3v2.4M440.2 115.3v2.6M441.2 115.3v2.8M442.2 115.3v1.7M443.2 115.3v2.3M444.2 115.3v2.3M445.2 115.3v2.0M447.2 115.3v2.5M449.2 115.3v2.2M451.2 115.3v2.7M452.2 115.3v2.2M453.2 115.3v1.7M455.2 115.3v2.4M456.2 115.3v2.8" stroke="#111" stroke-width="1.05" fill="none"/>
<rect x="406.2" y="79.8" width="51.900000000000034" height="35.5" fill="none" stroke="#000" stroke-width="1.4"/>
<path d="M465.0 80.8h2.7M465.2 81.8h2.5M465.6 82.8h2.1M465.0 83.8h2.7M464.9 84.8h2.8M465.8 85.8h1.9M465.0 86.8h2.7M465.2 88.8h2.5M464.9 89.8h2.8M465.7 90.8h2.0M465.1 91.8h2.6M465.0 92.8h2.7M465.6 93.8h2.1M465.5 94.8h2.2M465.7 95.8h2.0M465.0 97.8h2.7M465.0 98.8h2.7M465.9 100.8h1.8M465.2 101.8h2.5M465.3 102.8h2.4M465.4 103.8h2.3M465.2 105.8h2.5M465.0 106.8h2.7M464.9 107.8h2.8M465.6 110.8h2.1M465.1 111.8h2.6M464.9 112.8h2.8M465.4 113.8h2.3M469.7 115.3v2.3M470.7 115.3v1.8M471.7 115.3v2.8M473.7 115.3v2.8M474.7 115.3v2.4M476.7 115.3v2.8M477.7 115.3v1.7M478.7 115.3v2.2M479.7 115.3v2.6M480.7 115.3v2.6M481.7 115.3v1.7M482.7 115.3v1.7M483.7 115.3v2.6M484.7 115.3v2.2M485.7 115.3v2.3M486.7 115.3v2.4M487.7 115.3v2.4M488.7 115.3v2.1M489.7 115.3v1.8M490.7 115.3v2.8M491.7 115.3v2.7M493.7 115.3v1.8M494.7 115.3v2.7M495.7 115.3v2.2M496.7 115.3v1.8M497.7 115.3v1.8M498.7 115.3v2.3M499.7 115.3v1.9M500.7 115.3v1.9M501.7 115.3v1.9M503.7 115.3v2.8M504.7 115.3v2.8M505.7 115.3v2.6M506.7 115.3v2.5M507.7 115.3v2.6M508.7 115.3v1.9M509.7 115.3v2.1M510.7 115.3v2.0M512.7 115.3v2.4M513.7 115.3v2.4M515.7 115.3v1.7M516.7 115.3v2.4" stroke="#111" stroke-width="1.05" fill="none"/>
<rect x="467.7" y="79.8" width="50.50000000000006" height="35.5" fill="none" stroke="#000" stroke-width="1.4"/>
<path d="M283.7 157.4h2.5M283.5 158.4h2.7M283.5 159.4h2.7M283.4 160.4h2.8M283.4 161.4h2.8M284.0 162.4h2.2M284.1 163.4h2.1M284.2 165.4h2.0M284.2 166.4h2.0M284.2 167.4h2.0M283.3 168.4h2.9M283.9 171.4h2.3M284.2 175.4h2.0M283.5 176.4h2.7M283.6 178.4h2.6M284.2 179.4h2.0M283.6 181.4h2.6M283.5 182.4h2.7M283.9 188.4h2.3M288.2 191.5v2.8M289.2 191.5v2.8M290.2 191.5v2.9M292.2 191.5v2.7M293.2 191.5v1.9M294.2 191.5v1.9M295.2 191.5v2.8M296.2 191.5v2.5M297.2 191.5v2.6M299.2 191.5v2.8M301.2 191.5v1.7M302.2 191.5v2.7M303.2 191.5v2.4M306.2 191.5v2.2M307.2 191.5v1.7M309.2 191.5v2.4M310.2 191.5v2.0M311.2 191.5v2.1M313.2 191.5v2.0M314.2 191.5v2.0M315.2 191.5v2.2M316.2 191.5v2.6M317.2 191.5v2.5M318.2 191.5v2.7M319.2 191.5v2.0M321.2 191.5v1.9M323.2 191.5v2.8M324.2 191.5v2.2M326.2 191.5v2.9M327.2 191.5v2.7M328.2 191.5v2.3M329.2 191.5v1.8M331.2 191.5v2.7M332.2 191.5v2.1M333.2 191.5v2.3M335.2 191.5v2.1" stroke="#111" stroke-width="1.05" fill="none"/>
<rect x="286.2" y="155.4" width="50.19999999999999" height="36.099999999999994" fill="none" stroke="#000" stroke-width="1.4"/>
<path d="M345.0 158.4h1.9M344.6 159.4h2.3M344.4 161.4h2.5M344.7 162.4h2.2M344.4 163.4h2.5M344.7 165.4h2.2M344.2 167.4h2.7M344.5 168.4h2.4M344.3 169.4h2.6M344.7 173.4h2.2M344.1 174.4h2.8M344.5 176.4h2.4M345.0 177.4h1.9M344.3 178.4h2.6M344.8 179.4h2.1M344.5 181.4h2.4M344.0 182.4h2.9M344.2 183.4h2.7M344.7 184.4h2.2M344.3 186.4h2.6M344.9 187.4h2.0M344.2 188.4h2.7M344.9 190.4h2.0M347.9 191.5v2.7M348.9 191.5v2.6M349.9 191.5v2.0M350.9 191.5v2.0M351.9 191.5v2.9M353.9 191.5v2.0M355.9 191.5v2.0M356.9 191.5v1.7M357.9 191.5v2.1M358.9 191.5v2.9M359.9 191.5v1.9M361.9 191.5v2.7M362.9 191.5v2.6M363.9 191.5v1.8M365.9 191.5v2.3M366.9 191.5v2.6M367.9 191.5v2.1M369.9 191.5v2.0M370.9 191.5v1.9M372.9 191.5v2.7M373.9 191.5v2.1M375.9 191.5v1.9M376.9 191.5v2.3M378.9 191.5v2.1M380.9 191.5v2.0M381.9 191.5v2.9M382.9 191.5v2.5M384.9 191.5v2.8M386.9 191.5v2.1M388.9 191.5v1.8M390.9 191.5v2.3M391.9 191.5v2.8M392.9 191.5v2.0M393.9 191.5v2.1M394.9 191.5v2.7M395.9 191.5v2.4" stroke="#111" stroke-width="1.05" fill="none"/>
<rect x="346.9" y="155.4" width="50.80000000000001" height="36.099999999999994" fill="none" stroke="#000" stroke-width="1.4"/>
<path d="M404.5 156.4h2.4M404.2 157.4h2.7M404.4 160.4h2.5M404.1 162.4h2.8M404.1 166.4h2.8M404.3 167.4h2.6M404.4 168.4h2.5M405.0 169.4h1.9M404.2 170.4h2.7M404.9 171.4h2.0M405.0 172.4h1.9M404.0 173.4h2.9M404.3 175.4h2.6M404.2 176.4h2.7M405.1 177.4h1.8M404.9 178.4h2.0M405.0 179.4h1.9M404.5 180.4h2.4M404.2 182.4h2.7M404.9 183.4h2.0M404.7 184.4h2.2M404.5 185.4h2.4M404.2 186.4h2.7M404.2 187.4h2.7M405.1 189.4h1.8M407.9 191.5v2.3M408.9 191.5v1.7M409.9 191.5v2.5M410.9 191.5v2.1M411.9 191.5v2.4M412.9 191.5v2.7M416.9 191.5v2.9M417.9 191.5v2.2M418.9 191.5v2.2M419.9 191.5v2.5M420.9 191.5v2.0M421.9 191.5v2.1M422.9 191.5v1.9M424.9 191.5v2.2M425.9 191.5v2.5M426.9 191.5v1.9M427.9 191.5v2.5M433.9 191.5v1.7M434.9 191.5v1.6M437.9 191.5v1.9M438.9 191.5v1.8M439.9 191.5v2.9M440.9 191.5v1.7M441.9 191.5v2.1M444.9 191.5v1.7M445.9 191.5v1.8M447.9 191.5v2.9M450.9 191.5v2.7M451.9 191.5v1.7M452.9 191.5v2.3M453.9 191.5v1.9M454.9 191.5v2.8M455.9 191.5v2.8" stroke="#111" stroke-width="1.05" fill="none"/>
<rect x="406.9" y="155.4" width="50.80000000000001" height="36.099999999999994" fill="none" stroke="#000" stroke-width="1.4"/>
<path d="M465.7 157.4h2.6M465.6 158.4h2.7M466.5 160.4h1.8M465.9 161.4h2.4M466.5 162.4h1.8M466.5 165.4h1.8M466.4 167.4h1.9M465.8 168.4h2.5M465.8 170.4h2.5M466.2 171.4h2.1M466.4 173.4h1.9M466.4 174.4h1.9M466.0 175.4h2.3M465.8 176.4h2.5M466.0 177.4h2.3M465.7 178.4h2.6M466.0 179.4h2.3M465.8 180.4h2.5M466.2 181.4h2.1M465.7 182.4h2.6M466.3 183.4h2.0M466.4 185.4h1.9M465.4 186.4h2.9M466.1 187.4h2.2M465.7 190.4h2.6M469.3 191.5v1.7M472.3 191.5v1.7M473.3 191.5v2.8M474.3 191.5v2.5M476.3 191.5v2.8M477.3 191.5v1.8M478.3 191.5v2.6M479.3 191.5v2.9M480.3 191.5v1.8M482.3 191.5v2.3M483.3 191.5v2.6M486.3 191.5v2.7M487.3 191.5v2.7M488.3 191.5v2.4M489.3 191.5v2.6M490.3 191.5v1.7M491.3 191.5v2.0M492.3 191.5v1.6M494.3 191.5v2.7M496.3 191.5v1.8M497.3 191.5v1.9M498.3 191.5v1.7M500.3 191.5v2.1M501.3 191.5v2.5M504.3 191.5v2.1M505.3 191.5v2.6M506.3 191.5v2.4M509.3 191.5v1.7M510.3 191.5v2.5M511.3 191.5v2.3M512.3 191.5v2.1M513.3 191.5v2.4" stroke="#111" stroke-width="1.05" fill="none"/>
<rect x="468.3" y="155.4" width="49.69999999999999" height="36.099999999999994" fill="none" stroke="#000" stroke-width="1.4"/>
<path d="M283.6 235.0h1.8M282.7 236.0h2.7M282.6 237.0h2.8M282.6 238.0h2.8M282.8 239.0h2.6M283.3 240.0h2.1M283.2 241.0h2.2M283.1 242.0h2.3M282.6 244.0h2.8M283.3 249.0h2.1M283.6 250.0h1.8M282.6 251.0h2.8M282.8 253.0h2.6M283.5 257.0h1.9M282.9 259.0h2.5M283.0 260.0h2.4M283.0 262.0h2.4M283.0 263.0h2.4M282.6 265.0h2.8M282.5 266.0h2.9M283.4 267.0h2.0M286.4 268.6v2.8M287.4 268.6v1.9M288.4 268.6v2.9M289.4 268.6v2.2M290.4 268.6v2.5M293.4 268.6v1.9M294.4 268.6v2.5M295.4 268.6v1.9M297.4 268.6v2.4M298.4 268.6v2.4M299.4 268.6v2.0M300.4 268.6v1.7M301.4 268.6v2.1M302.4 268.6v1.7M303.4 268.6v2.9M304.4 268.6v2.0M306.4 268.6v1.7M307.4 268.6v2.1M308.4 268.6v2.2M310.4 268.6v2.8M311.4 268.6v2.7M312.4 268.6v2.7M313.4 268.6v2.7M315.4 268.6v2.0M316.4 268.6v1.8M318.4 268.6v2.5M319.4 268.6v2.5M320.4 268.6v1.8M321.4 268.6v2.9M322.4 268.6v2.4M323.4 268.6v1.9M324.4 268.6v1.6M326.4 268.6v2.9M327.4 268.6v2.5M328.4 268.6v2.6M329.4 268.6v2.1M330.4 268.6v1.7M331.4 268.6v2.6M332.4 268.6v2.1M334.4 268.6v1.9" stroke="#111" stroke-width="1.05" fill="none"/>
<rect x="285.4" y="232" width="50.80000000000001" height="36.60000000000002" fill="none" stroke="#000" stroke-width="1.4"/>
<path d="M342.4 233.0h2.2M342.1 234.0h2.5M341.8 235.0h2.8M342.1 236.0h2.5M342.8 238.0h1.8M342.7 239.0h1.9M342.0 240.0h2.6M342.7 241.0h1.9M342.6 242.0h2.0M342.3 243.0h2.3M342.7 244.0h1.9M342.3 245.0h2.3M342.7 247.0h1.9M342.0 248.0h2.6M341.8 249.0h2.8M341.8 252.0h2.8M342.5 253.0h2.1M341.8 254.0h2.8M342.7 255.0h1.9M341.8 256.0h2.8M342.0 257.0h2.6M342.3 258.0h2.3M342.6 259.0h2.0M342.4 260.0h2.2M341.7 261.0h2.9M342.6 262.0h2.0M342.1 263.0h2.5M342.8 264.0h1.8M342.0 265.0h2.6M342.5 266.0h2.1M345.6 267.3v2.4M346.6 267.3v1.8M351.6 267.3v2.8M352.6 267.3v1.9M353.6 267.3v2.8M354.6 267.3v1.9M355.6 267.3v2.2M356.6 267.3v1.8M358.6 267.3v2.8M359.6 267.3v2.5M360.6 267.3v2.8M361.6 267.3v2.2M362.6 267.3v2.8M363.6 267.3v2.9M364.6 267.3v1.9M366.6 267.3v2.9M367.6 267.3v1.9M369.6 267.3v2.1M370.6 267.3v2.5M371.6 267.3v2.1M372.6 267.3v2.7M373.6 267.3v2.4M374.6 267.3v2.2M375.6 267.3v2.5M376.6 267.3v1.9M377.6 267.3v2.8M378.6 267.3v1.8M379.6 267.3v2.4M381.6 267.3v1.9M382.6 267.3v2.4M383.6 267.3v2.1M385.6 267.3v2.7M387.6 267.3v2.8M388.6 267.3v1.7M390.6 267.3v1.6M391.6 267.3v2.0M394.6 267.3v2.3" stroke="#111" stroke-width="1.05" fill="none"/>
<rect x="344.6" y="232" width="51.799999999999955" height="35.30000000000001" fill="none" stroke="#000" stroke-width="1.4"/>
<path d="M403.4 235.0h2.4M403.7 236.0h2.1M403.4 237.0h2.4M403.9 241.0h1.9M403.8 243.0h2.0M403.7 244.0h2.1M403.6 245.0h2.2M403.3 246.0h2.5M403.2 247.0h2.6M403.5 248.0h2.3M403.1 249.0h2.7M403.5 250.0h2.3M403.2 251.0h2.6M403.8 252.0h2.0M403.5 255.0h2.3M403.5 257.0h2.3M403.2 260.0h2.6M403.3 261.0h2.5M403.8 263.0h2.0M403.7 264.0h2.1M403.9 265.0h1.9M403.5 266.0h2.3M406.8 267.3v2.4M408.8 267.3v2.1M409.8 267.3v2.2M410.8 267.3v2.2M411.8 267.3v2.5M412.8 267.3v2.1M416.8 267.3v2.4M417.8 267.3v2.9M418.8 267.3v2.6M419.8 267.3v1.9M421.8 267.3v2.7M423.8 267.3v1.9M424.8 267.3v2.3M426.8 267.3v1.7M427.8 267.3v1.8M428.8 267.3v1.6M429.8 267.3v1.9M430.8 267.3v2.9M431.8 267.3v1.7M434.8 267.3v2.0M435.8 267.3v2.0M436.8 267.3v2.2M437.8 267.3v1.7M438.8 267.3v1.8M439.8 267.3v2.4M440.8 267.3v1.9M443.8 267.3v2.2M444.8 267.3v2.8M445.8 267.3v1.7M446.8 267.3v2.5M447.8 267.3v2.5M448.8 267.3v2.6M450.8 267.3v2.4M451.8 267.3v2.5M454.8 267.3v1.7M455.8 267.3v2.3M456.8 267.3v1.9" stroke="#111" stroke-width="1.05" fill="none"/>
<rect x="405.8" y="232" width="52.30000000000001" height="35.30000000000001" fill="none" stroke="#000" stroke-width="1.4"/>
<path d="M465.0 233.3h1.9M464.8 234.3h2.1M464.6 235.3h2.3M464.3 236.3h2.6M464.3 237.3h2.6M464.8 238.3h2.1M464.3 239.3h2.6M464.1 240.3h2.8M464.8 241.3h2.1M464.8 242.3h2.1M464.9 243.3h2.0M464.0 246.3h2.9M464.8 248.3h2.1M464.4 250.3h2.5M465.0 251.3h1.9M464.9 252.3h2.0M464.9 255.3h2.0M464.5 256.3h2.4M464.7 257.3h2.2M464.5 258.3h2.4M465.0 260.3h1.9M464.6 261.3h2.3M464.4 262.3h2.5M464.7 263.3h2.2M464.3 264.3h2.6M467.9 267.3v2.2M470.9 267.3v1.7M471.9 267.3v2.4M472.9 267.3v1.6M475.9 267.3v2.2M476.9 267.3v2.0M477.9 267.3v2.6M479.9 267.3v1.7M480.9 267.3v1.7M482.9 267.3v2.0M484.9 267.3v1.7M485.9 267.3v1.8M486.9 267.3v2.7M487.9 267.3v1.8M489.9 267.3v2.0M490.9 267.3v1.9M492.9 267.3v1.9M496.9 267.3v2.8M497.9 267.3v2.0M498.9 267.3v2.5M500.9 267.3v1.9M502.9 267.3v2.7M503.9 267.3v1.9M504.9 267.3v2.2M506.9 267.3v2.7M507.9 267.3v1.8M509.9 267.3v1.8M510.9 267.3v2.7M512.9 267.3v1.6M514.9 267.3v2.8M516.9 267.3v2.7" stroke="#111" stroke-width="1.05" fill="none"/>
<rect x="466.9" y="232.3" width="51.10000000000002" height="35.0" fill="none" stroke="#000" stroke-width="1.4"/>
<path d="M305.2,71.0 L305.2,70.2 L304.6,69.4 L304.8,67.6 L304.8,67.3 L304.7,66.0 L304.5,65.4 L304.8,63.7 L304.7,62.9 L305.5,62.2 L304.9,61.4 L305.0,60.1 L306.9,59.0 L307.9,58.3 L309.0,58.9 L310.3,58.4 L311.0,59.2 L312.8,59.2 L313.2,61.2 L313.1,61.7 L313.7,63.4 L313.2,63.8 L313.4,65.2 L313.2,66.0 L313.6,67.2 L313.2,68.5 L314.1,69.1 L313.9,69.7 L314.0,71.1 L312.8,71.4 L311.3,71.4 L310.0,70.5 L309.2,71.4 L308.5,71.5 L307.0,71.4 L306.0,70.6Z" fill="#000"/>
<path d="M363.4,71.3 L363.4,69.7 L363.4,68.8 L364.0,68.2 L364.2,67.4 L363.9,66.4 L363.4,65.4 L363.7,63.7 L364.0,63.4 L363.9,61.5 L364.5,61.0 L364.4,60.1 L364.0,58.1 L365.1,57.0 L366.7,56.6 L367.1,56.1 L368.2,56.4 L369.7,56.7 L370.5,57.1 L371.8,57.0 L372.8,57.2 L374.1,58.8 L374.5,58.8 L374.7,59.7 L374.9,61.4 L374.6,62.4 L375.2,63.0 L375.7,64.5 L376.7,64.9 L377.8,65.7 L378.0,66.2 L379.4,67.4 L380.2,67.7 L380.2,67.9 L381.3,69.0 L381.7,69.7 L383.3,70.0 L382.5,71.3 L381.9,71.2 L381.0,71.2 L379.9,71.5 L379.4,71.4 L378.1,70.8 L376.8,70.8 L376.3,71.3 L375.2,71.3 L374.4,71.2 L372.7,71.3 L371.6,71.1 L370.5,71.4 L369.9,70.8 L369.3,70.6 L368.3,71.3 L366.5,71.3 L365.9,71.4 L364.9,70.9Z" fill="#000"/>
<path d="M425.0,71.8 L424.9,70.8 L424.6,68.2 L425.4,67.5 L425.3,66.4 L425.8,66.3 L425.6,65.7 L426.1,64.3 L425.6,62.2 L424.6,61.9 L426.2,60.7 L425.6,59.2 L425.5,59.6 L425.8,58.5 L425.0,56.5 L425.9,56.3 L426.4,55.2 L427.6,54.6 L429.0,53.2 L430.7,53.3 L431.3,52.8 L432.5,54.3 L432.6,54.4 L434.1,53.9 L434.8,56.0 L436.2,57.8 L436.4,58.2 L435.9,58.5 L436.2,60.1 L435.7,61.6 L435.6,61.4 L435.5,62.4 L436.1,64.5 L435.5,65.0 L436.1,66.1 L435.9,67.1 L435.2,67.3 L435.9,68.6 L436.4,69.6 L436.5,70.6 L434.3,71.0 L433.7,70.7 L433.2,70.6 L432.0,71.5 L430.6,71.0 L430.3,71.2 L428.0,70.3 L426.8,70.7 L425.7,71.2Z" fill="#000"/>
<path d="M486.1,71.6 L486.1,70.1 L486.3,68.3 L487.0,68.5 L486.1,67.4 L486.5,66.8 L485.9,64.8 L486.2,64.2 L487.2,63.5 L486.9,61.8 L487.4,60.4 L486.6,60.4 L487.0,59.8 L486.6,57.9 L486.9,56.2 L486.8,55.3 L487.8,54.9 L488.5,53.7 L489.3,53.0 L491.0,51.7 L491.5,51.5 L492.5,52.3 L493.5,52.6 L494.6,52.4 L495.9,53.4 L496.2,53.3 L497.7,54.8 L496.9,56.3 L498.1,56.7 L498.2,58.6 L498.4,58.9 L499.5,59.8 L498.7,60.5 L499.3,62.3 L498.8,62.8 L498.3,64.5 L498.6,65.5 L498.3,66.4 L497.6,66.6 L499.0,68.3 L498.5,69.0 L498.1,69.5 L497.5,71.2 L497.3,70.6 L496.1,70.4 L495.0,70.5 L493.8,70.7 L492.9,70.4 L491.7,71.2 L490.1,70.7 L489.9,71.1 L488.8,71.4 L487.7,70.6Z" fill="#000"/>
<path d="M304.2,114.7 L304.0,114.2 L303.6,113.3 L304.3,111.6 L303.6,110.6 L303.6,109.6 L303.8,108.8 L303.6,108.0 L303.7,107.3 L304.2,105.6 L303.9,104.5 L304.1,103.6 L306.2,103.3 L307.5,102.6 L307.5,103.0 L308.9,103.0 L310.1,102.6 L311.1,103.4 L312.4,103.9 L313.1,105.3 L313.6,106.0 L313.0,106.9 L313.8,107.9 L313.6,109.1 L313.5,110.1 L313.3,111.1 L314.1,111.6 L313.7,113.4 L314.4,113.5 L314.1,115.1 L313.3,115.0 L311.6,114.8 L311.2,115.2 L309.7,115.1 L309.2,115.2 L307.5,114.9 L306.8,115.1 L305.8,114.6 L305.2,114.8Z" fill="#000"/>
<path d="M363.8,115.0 L364.2,114.2 L364.1,112.9 L364.6,111.8 L364.7,111.4 L364.7,110.4 L364.0,109.3 L364.3,107.7 L364.7,107.1 L364.5,106.1 L364.4,105.1 L365.2,103.3 L366.9,102.8 L368.0,102.9 L368.6,103.0 L369.6,102.9 L371.1,103.2 L371.4,103.4 L373.1,104.2 L373.4,104.9 L374.2,106.2 L374.7,106.9 L375.1,108.0 L375.2,109.4 L376.5,110.3 L377.0,111.0 L377.3,111.7 L378.2,112.8 L379.4,113.6 L380.4,113.6 L381.3,114.5 L380.8,114.9 L380.2,115.3 L379.2,115.2 L377.5,114.7 L376.9,114.7 L375.6,114.6 L374.4,115.2 L373.4,115.3 L372.4,115.3 L371.4,114.8 L370.4,114.5 L369.4,114.9 L367.9,115.4 L367.2,114.5 L366.8,114.7 L365.0,114.5Z" fill="#000"/>
<path d="M425.4,115.0 L425.8,114.5 L425.8,113.3 L426.2,112.1 L425.6,110.8 L425.9,109.9 L426.0,109.0 L425.7,108.1 L426.6,106.5 L426.1,105.2 L426.1,104.1 L427.4,104.2 L428.7,103.7 L429.8,103.2 L430.6,102.6 L431.4,102.8 L432.9,103.1 L434.0,103.9 L434.3,104.9 L434.2,106.2 L435.2,107.1 L434.5,108.1 L435.3,109.5 L435.2,109.5 L435.3,111.2 L434.7,112.4 L435.2,113.4 L434.6,114.1 L434.8,114.8 L434.2,115.1 L432.7,115.0 L432.3,115.1 L431.3,115.1 L430.4,114.5 L428.9,115.1 L428.1,115.5 L427.0,115.0Z" fill="#000"/>
<path d="M485.5,114.7 L486.0,114.2 L486.0,113.0 L485.9,111.6 L485.6,110.8 L485.5,110.2 L485.4,108.8 L485.5,108.4 L485.8,107.0 L485.6,106.4 L486.4,104.9 L486.3,104.4 L486.3,102.8 L487.4,102.3 L489.3,101.2 L489.9,101.8 L491.0,101.0 L492.3,101.4 L492.9,100.4 L494.1,101.3 L495.4,101.4 L495.8,101.5 L496.4,102.7 L497.3,104.4 L497.7,105.4 L497.3,106.5 L496.9,107.4 L497.4,108.4 L497.2,109.5 L496.8,110.3 L497.6,110.9 L497.6,111.7 L497.6,113.0 L497.2,113.7 L497.6,115.2 L495.8,115.5 L494.9,114.9 L494.1,115.1 L493.5,115.4 L492.2,114.9 L490.6,114.6 L489.9,115.1 L488.8,115.5 L487.7,114.9 L486.7,114.7Z" fill="#000"/>
<rect x="421.6" y="42.1" width="19.5" height="16.2" fill="none" stroke="#808080" stroke-width="0.8"/>
<rect x="484.4" y="43.4" width="19" height="16.6" fill="none" stroke="#808080" stroke-width="0.8"/>
<text x="443.6" y="43.4" font-family="'Liberation Sans', sans-serif" font-size="7.6" font-weight="normal" fill="#555" text-anchor="start" textLength="11.7" lengthAdjust="spacingAndGlyphs" stroke="#555" stroke-width="0.25" >8%</text>
<text x="497.8" y="42.6" font-family="'Liberation Sans', sans-serif" font-size="7.6" font-weight="normal" fill="#555" text-anchor="start" textLength="19.2" lengthAdjust="spacingAndGlyphs" stroke="#555" stroke-width="0.25" >9.5%</text>
<line x1="279.3" y1="70.8" x2="279.3" y2="44.8" stroke="#2a2a2a" stroke-width="0.9"/>
<polygon points="277.5,46.4 279.3,41.8 281.1,46.4" fill="#111"/>
<text transform="translate(277.0,70.9) rotate(-90)" x="0" y="0" font-family="'Liberation Serif', serif" font-size="9.0" font-weight="normal" fill="#111" textLength="13.3" lengthAdjust="spacingAndGlyphs" stroke="#111" stroke-width="0.12">IL<tspan font-size="7.02">2</tspan></text>
<line x1="279.3" y1="191" x2="279.3" y2="166.2" stroke="#2a2a2a" stroke-width="0.9"/>
<polygon points="277.5,167.79999999999998 279.3,163.2 281.1,167.79999999999998" fill="#111"/>
<text transform="translate(277.0,190.6) rotate(-90)" x="0" y="0" font-family="'Liberation Serif', serif" font-size="9.0" font-weight="normal" fill="#111" textLength="13.3" lengthAdjust="spacingAndGlyphs" stroke="#111" stroke-width="0.12">IL<tspan font-size="7.02">2</tspan></text>
<line x1="279.3" y1="269" x2="279.3" y2="244.1" stroke="#2a2a2a" stroke-width="0.9"/>
<polygon points="277.5,245.7 279.3,241.1 281.1,245.7" fill="#111"/>
<text transform="translate(277.0,267.7) rotate(-90)" x="0" y="0" font-family="'Liberation Serif', serif" font-size="9.0" font-weight="normal" fill="#111" textLength="13.3" lengthAdjust="spacingAndGlyphs" stroke="#111" stroke-width="0.12">IL<tspan font-size="7.02">2</tspan></text>
<line x1="279.3" y1="115" x2="279.3" y2="87.1" stroke="#2a2a2a" stroke-width="0.9"/>
<polygon points="277.5,88.69999999999999 279.3,84.1 281.1,88.69999999999999" fill="#111"/>
<text transform="translate(264.6,116.9) rotate(-90)" x="0" y="0" font-family="'Liberation Serif', serif" font-size="9.3" font-weight="normal" fill="#111" textLength="31" lengthAdjust="spacingAndGlyphs" stroke="#111" stroke-width="0.12">Isotype</text>
<text transform="translate(275.3,116.9) rotate(-90)" x="0" y="0" font-family="'Liberation Serif', serif" font-size="9" font-weight="normal" fill="#111" textLength="29.9" lengthAdjust="spacingAndGlyphs" stroke="#111" stroke-width="0.12">control</text>
<line x1="284.8" y1="121.5" x2="320.7" y2="121.5" stroke="#2a2a2a" stroke-width="0.95"/>
<polygon points="320.0,119.7 325.2,121.5 320.0,123.3" fill="#111"/>
<text x="284.3" y="130.3" font-family="'Liberation Serif', serif" font-size="9" font-weight="normal" fill="#111" text-anchor="start" textLength="25.6" lengthAdjust="spacingAndGlyphs" stroke="#111" stroke-width="0.25" >CD<tspan font-size="7.02">1</tspan><tspan font-size="7.02">1</tspan>c</text>
<line x1="286.3" y1="198.5" x2="322.1" y2="198.5" stroke="#2a2a2a" stroke-width="0.95"/>
<polygon points="321.40000000000003,196.7 326.6,198.5 321.40000000000003,200.3" fill="#111"/>
<text x="286.2" y="207.2" font-family="'Liberation Serif', serif" font-size="9" font-weight="normal" fill="#111" text-anchor="start" textLength="25.6" lengthAdjust="spacingAndGlyphs" stroke="#111" stroke-width="0.25" >CD<tspan font-size="7.02">1</tspan><tspan font-size="7.02">1</tspan>c</text>
<line x1="284.3" y1="276.2" x2="320.7" y2="276.2" stroke="#2a2a2a" stroke-width="0.95"/>
<polygon points="320.0,274.4 325.2,276.2 320.0,278.0" fill="#111"/>
<text x="286" y="285.1" font-family="'Liberation Serif', serif" font-size="9" font-weight="normal" fill="#111" text-anchor="start" textLength="25.6" lengthAdjust="spacingAndGlyphs" stroke="#111" stroke-width="0.25" >CD<tspan font-size="7.02">1</tspan><tspan font-size="7.02">1</tspan>c</text>
<path d="M304.5,191.2 L304.4,189.8 L304.7,189.5 L303.8,187.8 L304.1,186.7 L304.2,186.4 L304.4,185.3 L305.2,183.5 L306.4,182.8 L306.7,182.0 L307.9,181.4 L308.7,181.0 L310.1,180.7 L310.8,180.4 L312.3,180.2 L313.3,179.4 L314.9,179.1 L315.7,178.9 L316.5,179.5 L318.1,178.8 L319.4,179.7 L319.5,179.6 L320.7,179.5 L322.1,180.0 L322.5,181.0 L323.0,181.6 L322.6,182.8 L321.8,183.4 L321.0,183.8 L320.4,184.6 L320.0,185.7 L319.6,186.6 L318.8,188.4 L317.6,188.7 L318.0,190.0 L317.9,190.8 L316.4,191.5 L315.3,191.5 L314.8,190.7 L313.5,191.4 L312.0,191.3 L311.7,191.2 L310.5,190.6 L309.8,190.6 L308.6,191.2 L307.2,191.2 L306.2,191.3 L304.9,191.4Z" fill="#000"/>
<path d="M365.9,191.2 L365.9,190.0 L366.1,189.1 L365.4,187.9 L365.7,186.9 L365.9,185.9 L366.4,184.9 L367.1,184.5 L367.6,182.5 L369.2,182.4 L369.9,182.1 L370.9,181.2 L371.5,181.6 L373.4,180.8 L374.0,180.6 L374.6,180.9 L376.3,180.1 L376.8,180.4 L378.3,180.1 L378.9,179.7 L380.3,180.7 L381.4,180.3 L382.1,181.5 L382.7,182.0 L382.6,182.6 L382.5,183.3 L381.8,184.7 L380.7,185.6 L380.4,186.1 L379.1,187.1 L378.9,187.7 L378.9,189.2 L377.9,189.7 L377.8,191.1 L376.8,190.9 L376.3,190.7 L375.2,190.8 L374.4,191.5 L372.7,191.1 L371.5,190.9 L371.0,191.1 L369.7,190.5 L368.5,191.1 L367.5,190.8 L366.9,191.4Z" fill="#000"/>
<path d="M427.0,191.6 L427.0,190.8 L426.6,188.8 L426.7,187.6 L426.0,186.6 L426.9,186.3 L427.0,184.8 L428.4,184.2 L428.3,183.4 L429.6,182.2 L429.7,181.7 L430.8,180.5 L431.7,180.1 L432.6,179.4 L434.1,179.4 L434.9,179.5 L435.6,178.8 L437.6,179.7 L438.8,179.9 L439.5,180.3 L440.8,180.4 L441.8,181.1 L442.2,182.5 L441.6,183.9 L441.1,185.2 L441.3,186.3 L440.9,186.8 L439.6,188.3 L439.9,189.0 L439.2,190.0 L439.3,191.5 L438.3,191.3 L436.8,191.5 L436.2,191.9 L434.9,191.7 L433.9,191.9 L433.3,191.6 L431.9,191.3 L431.4,191.8 L429.8,191.1 L428.7,192.0 L427.5,191.8Z" fill="#000"/>
<path d="M487.2,191.7 L487.1,190.4 L486.7,189.1 L486.1,188.2 L486.6,186.8 L486.7,186.4 L487.1,185.3 L487.1,183.7 L487.3,183.2 L488.7,181.8 L488.3,181.2 L489.3,180.6 L489.9,180.2 L491.0,179.6 L491.8,178.3 L492.7,178.5 L494.1,177.8 L494.6,177.0 L496.2,177.3 L497.4,176.3 L497.9,177.0 L499.3,177.5 L500.3,177.0 L500.8,178.4 L500.2,179.7 L500.1,181.4 L499.8,182.4 L498.5,183.3 L497.6,183.9 L497.9,184.8 L496.7,186.1 L495.9,187.2 L495.7,187.6 L495.4,188.7 L494.7,190.2 L493.6,191.1 L493.5,191.8 L492.0,191.8 L491.5,191.9 L490.0,191.3 L489.0,192.0 L488.2,191.7Z" fill="#000"/>
<path d="M298.2,268.4 L298.3,267.0 L298.0,266.5 L298.4,265.6 L297.9,263.8 L298.1,262.6 L298.6,261.8 L299.5,260.9 L300.6,259.6 L301.6,258.8 L302.4,257.5 L304.0,257.8 L304.1,256.6 L305.2,256.7 L306.1,255.8 L307.5,255.5 L308.3,255.9 L309.2,255.5 L310.3,256.6 L311.3,257.6 L312.4,258.3 L311.2,259.5 L311.1,259.8 L309.5,260.2 L309.9,261.7 L308.7,263.3 L308.6,263.9 L307.5,265.6 L306.6,266.7 L306.6,268.5 L305.6,268.4 L304.4,267.9 L303.0,268.6 L302.9,268.7 L301.1,268.6 L300.2,268.1 L299.2,268.7Z" fill="#000"/>
<path d="M357.5,267.0 L357.4,265.6 L357.1,265.1 L358.2,263.8 L357.6,262.8 L358.0,262.0 L358.7,260.5 L358.6,259.7 L359.4,258.9 L360.4,258.8 L361.4,257.7 L363.0,257.1 L363.8,256.9 L364.7,255.7 L366.5,255.8 L367.2,255.1 L368.6,255.1 L369.6,254.8 L370.9,254.9 L371.3,255.4 L372.2,254.8 L373.7,256.2 L374.6,256.2 L374.3,256.7 L372.9,258.1 L372.2,258.8 L370.6,259.7 L369.9,260.5 L369.0,261.4 L368.5,261.8 L367.7,263.0 L367.0,263.7 L367.5,265.1 L367.2,265.7 L366.5,267.0 L365.1,266.8 L364.9,267.2 L363.5,267.1 L362.9,267.5 L361.6,266.6 L360.9,266.7 L359.2,266.6 L358.5,267.1Z" fill="#000"/>
<path d="M418.8,267.4 L418.0,266.3 L418.6,265.0 L418.1,264.2 L418.6,263.1 L418.2,262.1 L418.9,261.0 L419.7,259.5 L420.3,259.0 L421.3,258.7 L422.0,257.6 L422.8,256.9 L424.0,256.7 L424.7,256.6 L426.0,256.1 L426.8,256.4 L428.4,256.4 L428.7,255.4 L430.1,255.2 L431.4,255.7 L431.8,255.8 L433.2,255.8 L433.9,256.8 L435.2,257.1 L435.6,257.2 L434.8,258.0 L434.1,259.6 L433.4,260.4 L432.4,261.1 L431.0,261.8 L430.1,263.3 L429.3,263.2 L428.4,264.2 L427.8,265.4 L426.8,266.8 L426.3,266.9 L424.4,267.5 L423.9,267.5 L422.7,266.8 L421.6,267.6 L420.6,266.8 L419.0,267.7Z" fill="#000"/>
<path d="M478.8,267.3 L478.6,266.1 L478.6,265.2 L479.5,264.4 L478.9,262.9 L479.4,261.6 L479.3,261.4 L478.6,260.5 L479.9,258.6 L480.4,257.6 L481.4,257.2 L482.6,256.0 L482.5,255.8 L483.9,254.4 L484.1,252.6 L485.9,252.6 L486.5,253.0 L487.2,251.6 L488.1,250.6 L489.7,250.3 L490.8,251.3 L491.8,251.3 L492.1,252.2 L491.8,253.3 L492.2,254.1 L492.2,254.7 L492.8,255.3 L494.4,256.3 L494.8,257.0 L493.7,256.9 L493.2,257.7 L492.9,258.9 L491.9,260.2 L491.5,260.9 L490.9,261.6 L491.0,262.3 L490.1,263.4 L489.3,264.1 L489.3,265.7 L488.8,265.9 L488.9,266.9 L487.8,266.8 L486.5,266.9 L485.1,267.2 L484.5,267.2 L483.1,267.2 L482.2,267.1 L481.6,267.0 L479.7,267.3Z" fill="#000"/>
<text x="288.5" y="327.5" font-family="'Liberation Sans', sans-serif" font-size="12.5" font-weight="bold" fill="#000" text-anchor="start" stroke="#000" stroke-width="0.1" >E</text>
<text x="318" y="338" font-family="'Liberation Serif', serif" font-size="10" font-weight="normal" fill="#111" text-anchor="start" textLength="78.2" lengthAdjust="spacingAndGlyphs" stroke="#111" stroke-width="0.25" >activated&#160;T&#160;cells</text>
<text x="438" y="338" font-family="'Liberation Serif', serif" font-size="10" font-weight="normal" fill="#111" text-anchor="start" textLength="46.5" lengthAdjust="spacingAndGlyphs" stroke="#111" stroke-width="0.25" >untreated</text>
<path d="M319.3 385.3h2.8M320.5 381.2h1.6M320.5 378.0h1.6M319.3 377.2h2.8M320.5 373.1h1.6M320.5 371.5h1.6M319.3 369.0h2.8M320.5 365.0h1.6M320.5 363.3h1.6M320.5 361.7h1.6M319.3 360.9h2.8M320.5 356.8h1.6M320.5 355.2h1.6M320.5 353.6h1.6M319.3 352.7h2.8M320.5 348.7h1.6M320.5 345.4h1.6M319.3 344.6h2.8M323.1 386.3v3M325.4 386.3v1.6M327.6 386.3v1.6M334.4 386.3v1.6M336.7 386.3v1.6M339.0 386.3v1.6M341.2 386.3v3M343.5 386.3v1.6M345.8 386.3v1.6M348.1 386.3v1.6M352.6 386.3v1.6M357.1 386.3v1.6M359.4 386.3v3M361.7 386.3v1.6M363.9 386.3v1.6M366.2 386.3v1.6M370.7 386.3v1.6M373.0 386.3v1.6M377.6 386.3v3M382.1 386.3v1.6M388.9 386.3v1.6M391.2 386.3v1.6M393.4 386.3v1.6M395.7 386.3v3" stroke="#111" stroke-width="0.9" fill="none"/>
<rect x="322.1" y="343.6" width="74.59999999999997" height="42.69999999999999" fill="none" stroke="#000" stroke-width="1.25"/>
<path d="M419.9 383.9h2.8M421.1 378.4h1.6M421.1 376.9h1.6M419.9 376.1h2.8M421.1 372.2h1.6M419.9 368.3h2.8M421.1 364.4h1.6M421.1 362.8h1.6M421.1 361.2h1.6M419.9 360.4h2.8M421.1 356.5h1.6M421.1 355.0h1.6M421.1 353.4h1.6M419.9 352.6h2.8M421.1 348.7h1.6M421.1 347.1h1.6M419.9 344.8h2.8M423.7 384.9v3M435.0 384.9v1.6M437.3 384.9v1.6M441.8 384.9v3M450.9 384.9v1.6M453.2 384.9v1.6M455.4 384.9v1.6M457.7 384.9v1.6M459.9 384.9v3M462.2 384.9v1.6M464.5 384.9v1.6M469.0 384.9v1.6M473.5 384.9v1.6M475.8 384.9v1.6M478.1 384.9v3M480.3 384.9v1.6M484.9 384.9v1.6M489.4 384.9v1.6M491.7 384.9v1.6M493.9 384.9v1.6M496.2 384.9v3" stroke="#111" stroke-width="0.9" fill="none"/>
<rect x="422.7" y="343.8" width="74.5" height="41.099999999999966" fill="none" stroke="#000" stroke-width="1.25"/>
<path d="M319.7 440.4h2.8M320.9 436.4h1.6M320.9 434.8h1.6M319.7 432.4h2.8M320.9 428.4h1.6M320.9 426.8h1.6M320.9 425.2h1.6M319.7 424.4h2.8M320.9 418.9h1.6M320.9 417.3h1.6M319.7 416.5h2.8M320.9 412.5h1.6M320.9 410.9h1.6M319.7 408.5h2.8M320.9 404.5h1.6M320.9 402.9h1.6M320.9 401.3h1.6M319.7 400.5h2.8M323.5 441.4v3M328.0 441.4v1.6M330.3 441.4v1.6M332.5 441.4v1.6M334.8 441.4v1.6M337.0 441.4v1.6M341.6 441.4v3M343.8 441.4v1.6M346.1 441.4v1.6M348.3 441.4v1.6M350.6 441.4v1.6M357.3 441.4v1.6M359.6 441.4v3M364.1 441.4v1.6M366.4 441.4v1.6M368.6 441.4v1.6M373.1 441.4v1.6M375.4 441.4v1.6M377.6 441.4v3M379.9 441.4v1.6M382.2 441.4v1.6M384.4 441.4v1.6M395.7 441.4v3" stroke="#111" stroke-width="0.9" fill="none"/>
<rect x="322.5" y="399.5" width="74.19999999999999" height="41.89999999999998" fill="none" stroke="#000" stroke-width="1.25"/>
<rect x="340.6" y="356.5" width="32.7" height="19" fill="none" stroke="#808080" stroke-width="0.8"/>
<rect x="439.2" y="356.5" width="32.3" height="18.7" fill="none" stroke="#808080" stroke-width="0.8"/>
<text x="375" y="354.8" font-family="'Liberation Serif', serif" font-size="10" font-weight="normal" fill="#111" text-anchor="start" textLength="17.3" lengthAdjust="spacingAndGlyphs" stroke="#111" stroke-width="0.25" ><tspan font-size="7.80">1</tspan><tspan dy="2.00" font-size="10.00">3</tspan><tspan dy="-2.00">%</tspan></text>
<path d="M339.3,385.1 L339.7,384.2 L340.2,383.3 L340.3,382.1 L340.9,380.6 L341.8,380.1 L342.1,378.7 L342.6,378.2 L344.2,377.2 L344.8,376.3 L346.3,375.8 L347.4,374.6 L348.3,374.2 L349.1,374.4 L349.6,374.0 L351.2,374.2 L351.6,373.5 L353.3,373.1 L354.4,373.9 L354.8,373.2 L355.6,373.2 L356.9,373.7 L358.4,373.6 L359.5,373.3 L360.2,372.8 L360.9,372.8 L361.6,373.5 L362.6,372.9 L364.0,373.0 L364.5,372.8 L366.2,373.2 L366.6,373.5 L367.4,375.2 L367.5,375.7 L366.9,376.9 L367.1,377.9 L365.6,378.5 L364.9,379.5 L364.2,379.6 L362.8,379.9 L362.0,380.4 L361.1,380.8 L359.9,382.3 L358.9,382.5 L358.6,383.8 L357.9,384.4 L357.2,385.2 L356.1,385.0 L354.6,385.2 L353.8,385.7 L352.4,385.9 L351.4,386.0 L351.3,385.6 L350.1,385.9 L348.7,385.9 L347.3,385.8 L346.9,385.8 L345.3,385.1 L344.7,385.6 L343.8,385.2 L342.7,386.0 L341.3,385.8 L341.0,385.7Z" fill="#000"/>
<path d="M440.7,384.4 L441.2,383.6 L440.6,382.5 L440.8,381.0 L441.4,380.1 L442.0,379.6 L442.4,378.5 L443.2,377.6 L444.3,377.4 L444.8,376.8 L445.7,375.8 L447.2,376.2 L447.8,376.0 L449.2,375.1 L450.3,375.4 L450.6,375.3 L451.9,374.5 L452.9,374.5 L454.0,374.1 L454.6,374.2 L456.2,374.1 L456.9,374.1 L457.5,373.1 L458.5,373.5 L460.0,373.0 L461.0,372.7 L461.5,373.6 L463.4,372.6 L464.2,372.9 L465.0,373.1 L466.1,373.1 L467.2,372.9 L467.6,372.8 L468.8,372.9 L470.3,373.0 L471.3,372.4 L470.5,374.0 L469.6,375.0 L469.1,375.5 L467.8,375.7 L467.2,375.8 L466.2,376.6 L464.9,376.5 L464.0,377.3 L462.8,377.3 L461.9,378.2 L460.7,379.0 L460.0,379.2 L459.2,379.3 L458.4,380.6 L457.3,381.7 L457.1,382.0 L456.0,383.1 L455.8,384.9 L454.7,384.8 L453.8,384.9 L453.2,384.8 L452.3,384.9 L450.6,385.0 L450.0,385.1 L449.4,384.7 L448.4,384.5 L447.2,384.3 L446.3,384.7 L445.0,384.8 L443.9,384.5 L443.2,384.9 L441.6,384.6Z" fill="#000"/>
<path d="M340.2,439.4 L340.4,438.5 L340.5,438.0 L340.3,436.0 L341.8,435.9 L342.4,435.6 L343.5,434.5 L344.5,433.9 L345.2,433.8 L345.9,432.9 L346.9,432.3 L347.9,432.3 L348.6,432.1 L350.3,431.3 L351.1,430.7 L352.3,430.9 L352.9,430.1 L353.7,429.5 L355.4,429.5 L355.9,429.1 L356.7,428.1 L357.9,428.3 L358.7,427.9 L359.8,427.3 L361.2,427.2 L362.2,427.5 L362.9,426.7 L364.3,427.1 L365.1,426.7 L366.0,426.4 L366.5,426.0 L368.1,425.6 L369.4,426.2 L368.9,426.4 L368.8,427.8 L368.6,429.3 L367.1,430.0 L366.3,430.0 L365.0,430.5 L364.3,431.5 L363.9,431.8 L362.3,432.6 L361.6,433.2 L360.7,433.7 L359.3,434.8 L359.2,435.1 L357.8,436.4 L357.1,437.4 L356.9,437.5 L355.7,438.2 L354.6,439.4 L354.4,439.9 L353.3,439.6 L352.1,439.5 L351.2,439.5 L349.9,439.8 L348.8,439.4 L348.2,440.0 L346.8,439.4 L345.9,439.2 L344.9,439.8 L343.7,439.5 L342.8,439.6 L342.3,439.1 L341.0,439.2Z" fill="#000"/>
<line x1="312.8" y1="386" x2="312.8" y2="352.5" stroke="#2a2a2a" stroke-width="0.9"/>
<polygon points="311.0,354.1 312.8,349.5 314.6,354.1" fill="#111"/>
<text transform="translate(308.1,384.6) rotate(-90)" x="0" y="0" font-family="'Liberation Serif', serif" font-size="10.5" font-weight="normal" fill="#111" textLength="14" lengthAdjust="spacingAndGlyphs" stroke="#111" stroke-width="0.12">IL<tspan font-size="8.19">2</tspan></text>
<line x1="312.8" y1="440.5" x2="312.8" y2="406.9" stroke="#2a2a2a" stroke-width="0.9"/>
<polygon points="311.0,408.5 312.8,403.9 314.6,408.5" fill="#111"/>
<text transform="translate(295.3,439.2) rotate(-90)" x="0" y="0" font-family="'Liberation Serif', serif" font-size="9.8" font-weight="normal" fill="#111" textLength="39" lengthAdjust="spacingAndGlyphs" stroke="#111" stroke-width="0.12">Isotype</text>
<text transform="translate(309.1,439.2) rotate(-90)" x="0" y="0" font-family="'Liberation Serif', serif" font-size="9.8" font-weight="normal" fill="#111" textLength="33.2" lengthAdjust="spacingAndGlyphs" stroke="#111" stroke-width="0.12">control</text>
<line x1="323" y1="450.2" x2="379" y2="450.2" stroke="#333" stroke-width="0.9"/>
<polygon points="378.5,448.5 383,450.2 378.5,451.9" fill="#222"/>
<text x="324.5" y="462.4" font-family="'Liberation Serif', serif" font-size="10" font-weight="normal" fill="#111" text-anchor="start" textLength="28" lengthAdjust="spacingAndGlyphs" stroke="#111" stroke-width="0.25" >CD<tspan font-size="7.80">1</tspan><tspan font-size="7.80">1</tspan>c</text>
<line x1="423.1" y1="397.3" x2="423.1" y2="443.5" stroke="#111" stroke-width="1.0"/>
<line x1="423.1" y1="443.5" x2="501.5" y2="443.5" stroke="#333" stroke-width="1.0"/>
<line x1="423.1" y1="449.2" x2="480" y2="449.2" stroke="#333" stroke-width="0.9"/>
<polygon points="479.5,447.5 484,449.2 479.5,450.9" fill="#222"/>
<text x="426.5" y="462" font-family="'Liberation Serif', serif" font-size="10" font-weight="normal" fill="#111" text-anchor="start" textLength="35.3" lengthAdjust="spacingAndGlyphs" stroke="#111" stroke-width="0.25" >CD<tspan dy="2.00" font-size="10.00">4</tspan><tspan dy="-2.00" font-size="7.80">0</tspan>L</text>
<polyline points="423.60,443.00 423.61,442.71 423.63,442.07 423.64,439.96 423.65,439.26 423.67,438.74 423.68,438.08 423.69,439.04 423.71,438.26 423.72,437.27 423.73,435.35 423.75,434.80 423.76,433.30 423.77,433.35 423.79,434.09 423.80,430.77 423.84,430.97 423.87,429.66 423.91,430.89 423.94,428.55 423.98,428.39 424.01,426.37 424.05,427.57 424.09,426.33 424.12,426.47 424.16,425.52 424.19,424.88 424.23,422.72 424.26,421.97 424.30,422.29 424.54,419.93 424.79,421.88 425.03,420.52 425.27,419.12 425.51,418.01 425.76,416.45 426.00,417.16 426.33,417.15 426.67,414.52 427.00,413.80 427.33,414.89 427.67,413.58 428.00,413.87 428.29,412.02 428.57,413.02 428.86,411.98 429.14,409.61 429.43,409.54 429.71,408.97 430.00,407.85 430.33,408.29 430.67,407.28 431.00,406.96 431.33,404.59 431.67,404.68 432.00,404.13 432.40,403.65 432.80,401.35 433.20,403.14 433.60,401.44 434.00,399.98 434.50,401.56 435.00,400.17 435.75,400.32 436.50,399.92 436.75,400.27 437.00,401.84 437.25,399.97 437.50,401.50 437.70,401.79 437.90,404.01 438.10,403.56 438.30,403.78 438.50,404.91 438.65,405.72 438.80,407.52 438.95,407.97 439.10,408.69 439.25,408.04 439.40,410.28 439.55,410.16 439.70,410.37 439.85,410.97 440.00,411.95 440.29,413.42 440.57,413.43 440.86,415.03 441.14,414.85 441.43,417.28 441.71,418.41 442.00,417.47 442.50,417.22 443.00,420.40 443.50,418.25 444.00,420.45 444.33,421.44 444.67,421.28 445.00,423.17 445.33,421.61 445.67,423.99 446.00,425.22 446.22,425.86 446.44,426.38 446.67,425.81 446.89,426.70 447.11,428.38 447.33,427.64 447.56,427.93 447.78,427.93 448.00,429.11 448.22,429.59 448.44,432.62 448.67,431.43 448.89,432.22 449.11,434.76 449.33,434.57 449.56,434.47 449.78,434.15 450.00,435.60 450.33,436.04 450.67,438.68 451.00,437.76 451.33,440.09 451.67,438.64 452.00,438.64 452.60,441.70 453.20,439.73 453.80,442.36 454.40,442.29 455.00,441.85 455.71,443.57 456.43,442.43 457.14,444.16 457.86,442.96 458.57,444.19 459.29,444.22 460.00,443.00" fill="none" stroke="#000" stroke-width="1.1" stroke-linejoin="round" opacity="1"/>
<polyline points="424.00,443.00 424.25,441.90 424.50,442.04 424.75,441.39 425.00,440.43 425.50,438.17 426.00,439.53 426.50,439.23 427.00,437.14 427.50,436.37 428.00,435.79 428.50,436.62 429.00,434.90 429.50,436.47 430.00,434.76 430.50,435.89 431.00,434.66 431.50,433.30 432.00,432.11 432.50,432.29 433.00,432.30 433.43,432.44 433.86,431.95 434.29,429.79 434.71,428.38 435.14,429.60 435.57,429.10 436.00,428.41 436.40,428.25 436.80,427.67 437.20,426.55 437.60,426.50 438.00,423.95 438.40,425.65 438.80,424.27 439.20,422.06 439.60,421.67 440.00,422.40 440.33,420.79 440.67,421.89 441.00,419.38 441.33,419.29 441.67,418.68 442.00,419.23 442.50,416.95 443.00,418.10 443.50,417.13 444.00,416.19 444.75,417.00 445.50,416.57 446.25,415.95 447.00,415.13 447.60,414.12 448.20,415.02 448.80,416.62 449.40,415.53 450.00,417.40 450.75,416.82 451.50,417.18 452.25,418.65 453.00,418.95 453.50,419.19 454.00,418.85 454.50,419.60 455.00,421.36 455.50,421.69 456.00,421.30 456.80,419.82 457.60,422.12 458.40,419.73 459.20,419.93 460.00,421.45 460.50,420.65 461.00,422.71 461.50,423.02 462.00,422.06 462.20,424.84 462.40,425.80 462.60,425.54 462.80,427.15 463.00,427.34 463.20,427.12 463.40,428.81 463.60,429.83 463.80,429.85 464.00,428.83 464.22,430.31 464.44,431.90 464.67,431.62 464.89,431.73 465.11,433.21 465.33,432.99 465.56,434.60 465.78,434.21 466.00,436.63 466.43,435.77 466.86,438.36 467.29,436.61 467.71,438.65 468.14,439.26 468.57,438.59 469.00,440.36 469.75,440.39 470.50,440.82 471.25,439.87 472.00,440.94 472.80,442.14 473.60,441.73 474.40,440.88 475.20,441.34 476.00,443.06 476.80,440.85 477.60,442.14 478.40,442.34 479.20,442.20 480.00,441.11 480.71,441.43 481.43,443.53 482.14,442.48 482.86,442.06 483.57,442.54 484.29,441.46 485.00,441.58 485.71,443.71 486.43,443.55 487.14,442.01 487.86,442.38 488.57,441.74 489.29,442.45 490.00,443.00" fill="none" stroke="#1a1a1a" stroke-width="1.0" stroke-dasharray="1.8,0.9" stroke-linejoin="round" opacity="1"/>
<path d="M490 53h1v1h-1zM429 54h1v1h-1zM495 54h1v1h-1zM489 55h1v1h-1zM371 58h1v1h-1zM430 59h1v1h-1zM431 60h1v1h-1zM433 60h1v1h-1zM366 61h1v1h-1zM369 61h2v1h-2zM428 61h1v1h-1zM495 61h1v1h-1zM497 61h1v1h-1zM369 63h1v1h-1zM310 65h1v1h-1zM365 65h1v1h-1zM366 66h1v1h-1zM490 66h1v1h-1zM493 66h1v1h-1zM311 67h1v1h-1zM491 67h1v1h-1zM308 68h2v1h-2zM368 68h1v1h-1zM428 68h1v1h-1zM493 68h1v1h-1zM379 69h1v1h-1zM494 101h1v1h-1zM491 102h1v1h-1zM493 102h1v1h-1zM369 104h1v1h-1zM371 104h1v1h-1zM491 105h1v1h-1zM311 106h1v1h-1zM429 106h1v1h-1zM491 106h1v1h-1zM371 107h1v1h-1zM490 108h1v1h-1zM368 109h1v1h-1zM374 109h1v1h-1zM369 110h1v1h-1zM373 110h1v1h-1zM310 111h1v1h-1zM366 111h1v1h-1zM306 112h1v1h-1zM365 112h1v1h-1zM373 112h1v1h-1zM494 112h1v1h-1zM311 113h1v1h-1zM374 113h1v1h-1zM432 113h1v1h-1zM489 113h1v1h-1zM495 113h1v1h-1zM497 179h1v1h-1zM378 181h1v1h-1zM308 182h1v1h-1zM320 182h1v1h-1zM380 182h1v1h-1zM308 183h1v1h-1zM373 183h1v1h-1zM376 183h1v1h-1zM490 183h1v1h-1zM319 184h1v1h-1zM375 184h1v1h-1zM431 184h1v1h-1zM493 184h1v1h-1zM370 185h1v1h-1zM438 185h1v1h-1zM308 186h1v1h-1zM310 186h1v1h-1zM378 186h1v1h-1zM437 186h1v1h-1zM307 187h1v1h-1zM311 187h1v1h-1zM371 187h1v1h-1zM432 188h1v1h-1zM491 188h1v1h-1zM490 254h1v1h-1zM484 255h1v1h-1zM486 256h1v1h-1zM491 256h1v1h-1zM309 257h1v1h-1zM426 257h1v1h-1zM305 258h1v1h-1zM309 258h1v1h-1zM367 258h1v1h-1zM431 258h1v1h-1zM490 258h1v1h-1zM308 259h1v1h-1zM364 259h1v1h-1zM427 259h1v1h-1zM429 259h1v1h-1zM489 259h1v1h-1zM308 260h1v1h-1zM421 260h1v1h-1zM420 261h1v1h-1zM485 261h1v1h-1zM487 261h1v1h-1zM307 262h1v1h-1zM428 262h1v1h-1zM419 263h1v1h-1zM487 263h1v1h-1zM363 264h1v1h-1zM420 264h1v1h-1zM484 264h1v1h-1zM300 265h1v1h-1zM304 265h1v1h-1zM362 265h1v1h-1zM420 265h1v1h-1zM351 374h1v1h-1zM358 374h1v1h-1zM363 374h1v1h-1zM463 374h1v1h-1zM347 376h1v1h-1zM457 376h1v1h-1zM462 376h1v1h-1zM457 377h1v1h-1zM348 378h1v1h-1zM359 378h1v1h-1zM451 378h1v1h-1zM348 379h1v1h-1zM361 379h1v1h-1zM443 379h1v1h-1zM452 379h1v1h-1zM358 380h1v1h-1zM351 381h1v1h-1zM358 381h1v1h-1zM447 381h1v1h-1zM343 382h1v1h-1zM354 382h1v1h-1zM365 428h1v1h-1zM362 430h1v1h-1zM352 431h1v1h-1zM350 433h1v1h-1zM353 433h1v1h-1zM357 433h1v1h-1zM355 435h1v1h-1z" fill="#fff" opacity="0.4"/>
<path d="M433 45h1v1h-1zM494 45h1v1h-1zM428 46h2v1h-2zM431 46h4v1h-4zM491 46h1v1h-1zM429 47h3v1h-3zM434 47h1v1h-1zM492 47h1v1h-1zM497 47h1v1h-1zM427 48h1v1h-1zM429 48h2v1h-2zM434 48h1v1h-1zM488 48h1v1h-1zM492 48h1v1h-1zM494 48h1v1h-1zM497 48h1v1h-1zM429 49h1v1h-1zM431 49h5v1h-5zM493 49h1v1h-1zM495 49h4v1h-4zM429 50h2v1h-2zM432 50h1v1h-1zM488 50h1v1h-1zM490 50h4v1h-4zM496 50h1v1h-1zM427 51h2v1h-2zM432 51h1v1h-1zM435 51h1v1h-1zM437 51h1v1h-1zM489 51h1v1h-1zM493 51h2v1h-2zM430 52h1v1h-1zM434 52h1v1h-1zM488 52h1v1h-1zM493 52h1v1h-1zM495 52h1v1h-1zM497 52h2v1h-2zM427 53h1v1h-1zM432 53h1v1h-1zM435 53h2v1h-2zM490 53h2v1h-2zM496 53h1v1h-1zM310 54h1v1h-1zM427 54h2v1h-2zM431 54h1v1h-1zM435 54h1v1h-1zM311 55h1v1h-1zM374 55h1v1h-1zM437 55h1v1h-1zM499 55h1v1h-1zM310 57h1v1h-1zM500 58h1v1h-1zM376 60h1v1h-1zM377 62h1v1h-1zM316 63h1v1h-1zM316 64h1v1h-1zM362 64h1v1h-1zM378 64h1v1h-1zM303 66h1v1h-1zM315 66h1v1h-1zM316 69h1v1h-1zM437 97h1v1h-1zM434 98h1v1h-1zM375 99h1v1h-1zM491 99h1v1h-1zM497 99h1v1h-1zM310 100h1v1h-1zM367 100h1v1h-1zM429 100h1v1h-1zM433 100h1v1h-1zM311 101h1v1h-1zM313 101h1v1h-1zM432 101h1v1h-1zM302 103h1v1h-1zM315 103h1v1h-1zM499 103h2v1h-2zM376 104h1v1h-1zM498 105h1v1h-1zM316 108h1v1h-1zM378 110h1v1h-1zM436 110h1v1h-1zM315 111h1v1h-1zM436 111h1v1h-1zM505 167h1v1h-1zM507 167h1v1h-1zM509 167h1v1h-1zM511 167h1v1h-1zM510 168h2v1h-2zM505 169h1v1h-1zM438 170h2v1h-2zM501 170h1v1h-1zM505 170h4v1h-4zM437 171h1v1h-1zM503 171h2v1h-2zM506 171h2v1h-2zM510 171h1v1h-1zM437 172h1v1h-1zM495 172h2v1h-2zM499 172h7v1h-7zM507 172h1v1h-1zM509 172h1v1h-1zM497 173h1v1h-1zM503 173h1v1h-1zM509 173h1v1h-1zM437 174h1v1h-1zM499 174h1v1h-1zM511 174h1v1h-1zM437 175h1v1h-1zM497 175h2v1h-2zM500 175h1v1h-1zM502 175h2v1h-2zM494 176h1v1h-1zM496 176h2v1h-2zM501 176h1v1h-1zM504 176h1v1h-1zM498 177h1v1h-1zM502 177h1v1h-1zM320 178h1v1h-1zM322 178h1v1h-1zM380 178h1v1h-1zM384 178h1v1h-1zM443 178h1v1h-1zM496 178h1v1h-1zM383 179h1v1h-1zM385 179h1v1h-1zM443 181h1v1h-1zM324 182h1v1h-1zM501 182h1v1h-1zM385 183h1v1h-1zM489 248h1v1h-1zM427 249h1v1h-1zM489 249h1v1h-1zM426 253h1v1h-1zM427 254h2v1h-2zM352 360h1v1h-1zM356 360h1v1h-1zM348 361h1v1h-1zM350 361h1v1h-1zM352 361h1v1h-1zM357 361h1v1h-1zM350 362h1v1h-1zM355 362h2v1h-2zM361 362h2v1h-2zM364 362h1v1h-1zM345 363h1v1h-1zM347 363h2v1h-2zM351 363h1v1h-1zM355 363h1v1h-1zM357 363h2v1h-2zM360 363h1v1h-1zM366 363h1v1h-1zM344 364h1v1h-1zM348 364h1v1h-1zM351 364h1v1h-1zM353 364h3v1h-3zM357 364h2v1h-2zM360 364h3v1h-3zM365 364h1v1h-1zM343 365h1v1h-1zM345 365h1v1h-1zM348 365h4v1h-4zM353 365h6v1h-6zM360 365h2v1h-2zM363 365h1v1h-1zM366 365h1v1h-1zM347 366h2v1h-2zM351 366h4v1h-4zM356 366h1v1h-1zM359 366h1v1h-1zM361 366h2v1h-2zM365 366h1v1h-1zM367 366h1v1h-1zM345 367h1v1h-1zM347 367h1v1h-1zM349 367h2v1h-2zM352 367h1v1h-1zM354 367h6v1h-6zM361 367h1v1h-1zM364 367h1v1h-1zM343 368h4v1h-4zM348 368h1v1h-1zM350 368h1v1h-1zM352 368h1v1h-1zM354 368h1v1h-1zM356 368h1v1h-1zM358 368h1v1h-1zM360 368h3v1h-3zM364 368h1v1h-1zM346 369h1v1h-1zM348 369h1v1h-1zM350 369h3v1h-3zM354 369h1v1h-1zM357 369h3v1h-3zM362 369h3v1h-3zM366 369h1v1h-1zM343 370h1v1h-1zM346 370h1v1h-1zM350 370h1v1h-1zM352 370h1v1h-1zM355 370h1v1h-1zM360 370h1v1h-1zM363 370h1v1h-1zM366 370h2v1h-2zM453 370h1v1h-1zM463 370h1v1h-1zM349 371h2v1h-2zM352 371h4v1h-4zM357 371h1v1h-1zM361 371h1v1h-1zM363 371h2v1h-2zM368 371h1v1h-1zM471 371h1v1h-1zM344 372h3v1h-3zM348 372h1v1h-1zM351 372h1v1h-1zM353 372h3v1h-3zM360 372h3v1h-3zM365 372h2v1h-2zM447 372h1v1h-1zM467 372h2v1h-2zM345 373h2v1h-2zM348 373h1v1h-1zM350 373h1v1h-1zM353 373h1v1h-1zM357 373h1v1h-1zM359 373h1v1h-1zM361 373h3v1h-3zM351 374h1v1h-1zM356 374h1v1h-1zM358 374h1v1h-1zM360 374h1v1h-1zM349 375h2v1h-2zM353 375h2v1h-2zM359 375h3v1h-3zM363 375h1v1h-1zM354 376h2v1h-2zM357 376h3v1h-3zM467 379h1v1h-1zM368 424h2v1h-2zM358 426h1v1h-1zM359 427h1v1h-1zM366 436h1v1h-1zM352 440h1v1h-1zM342 441h1v1h-1z" fill="#000"/>
</svg>
</body></html>
